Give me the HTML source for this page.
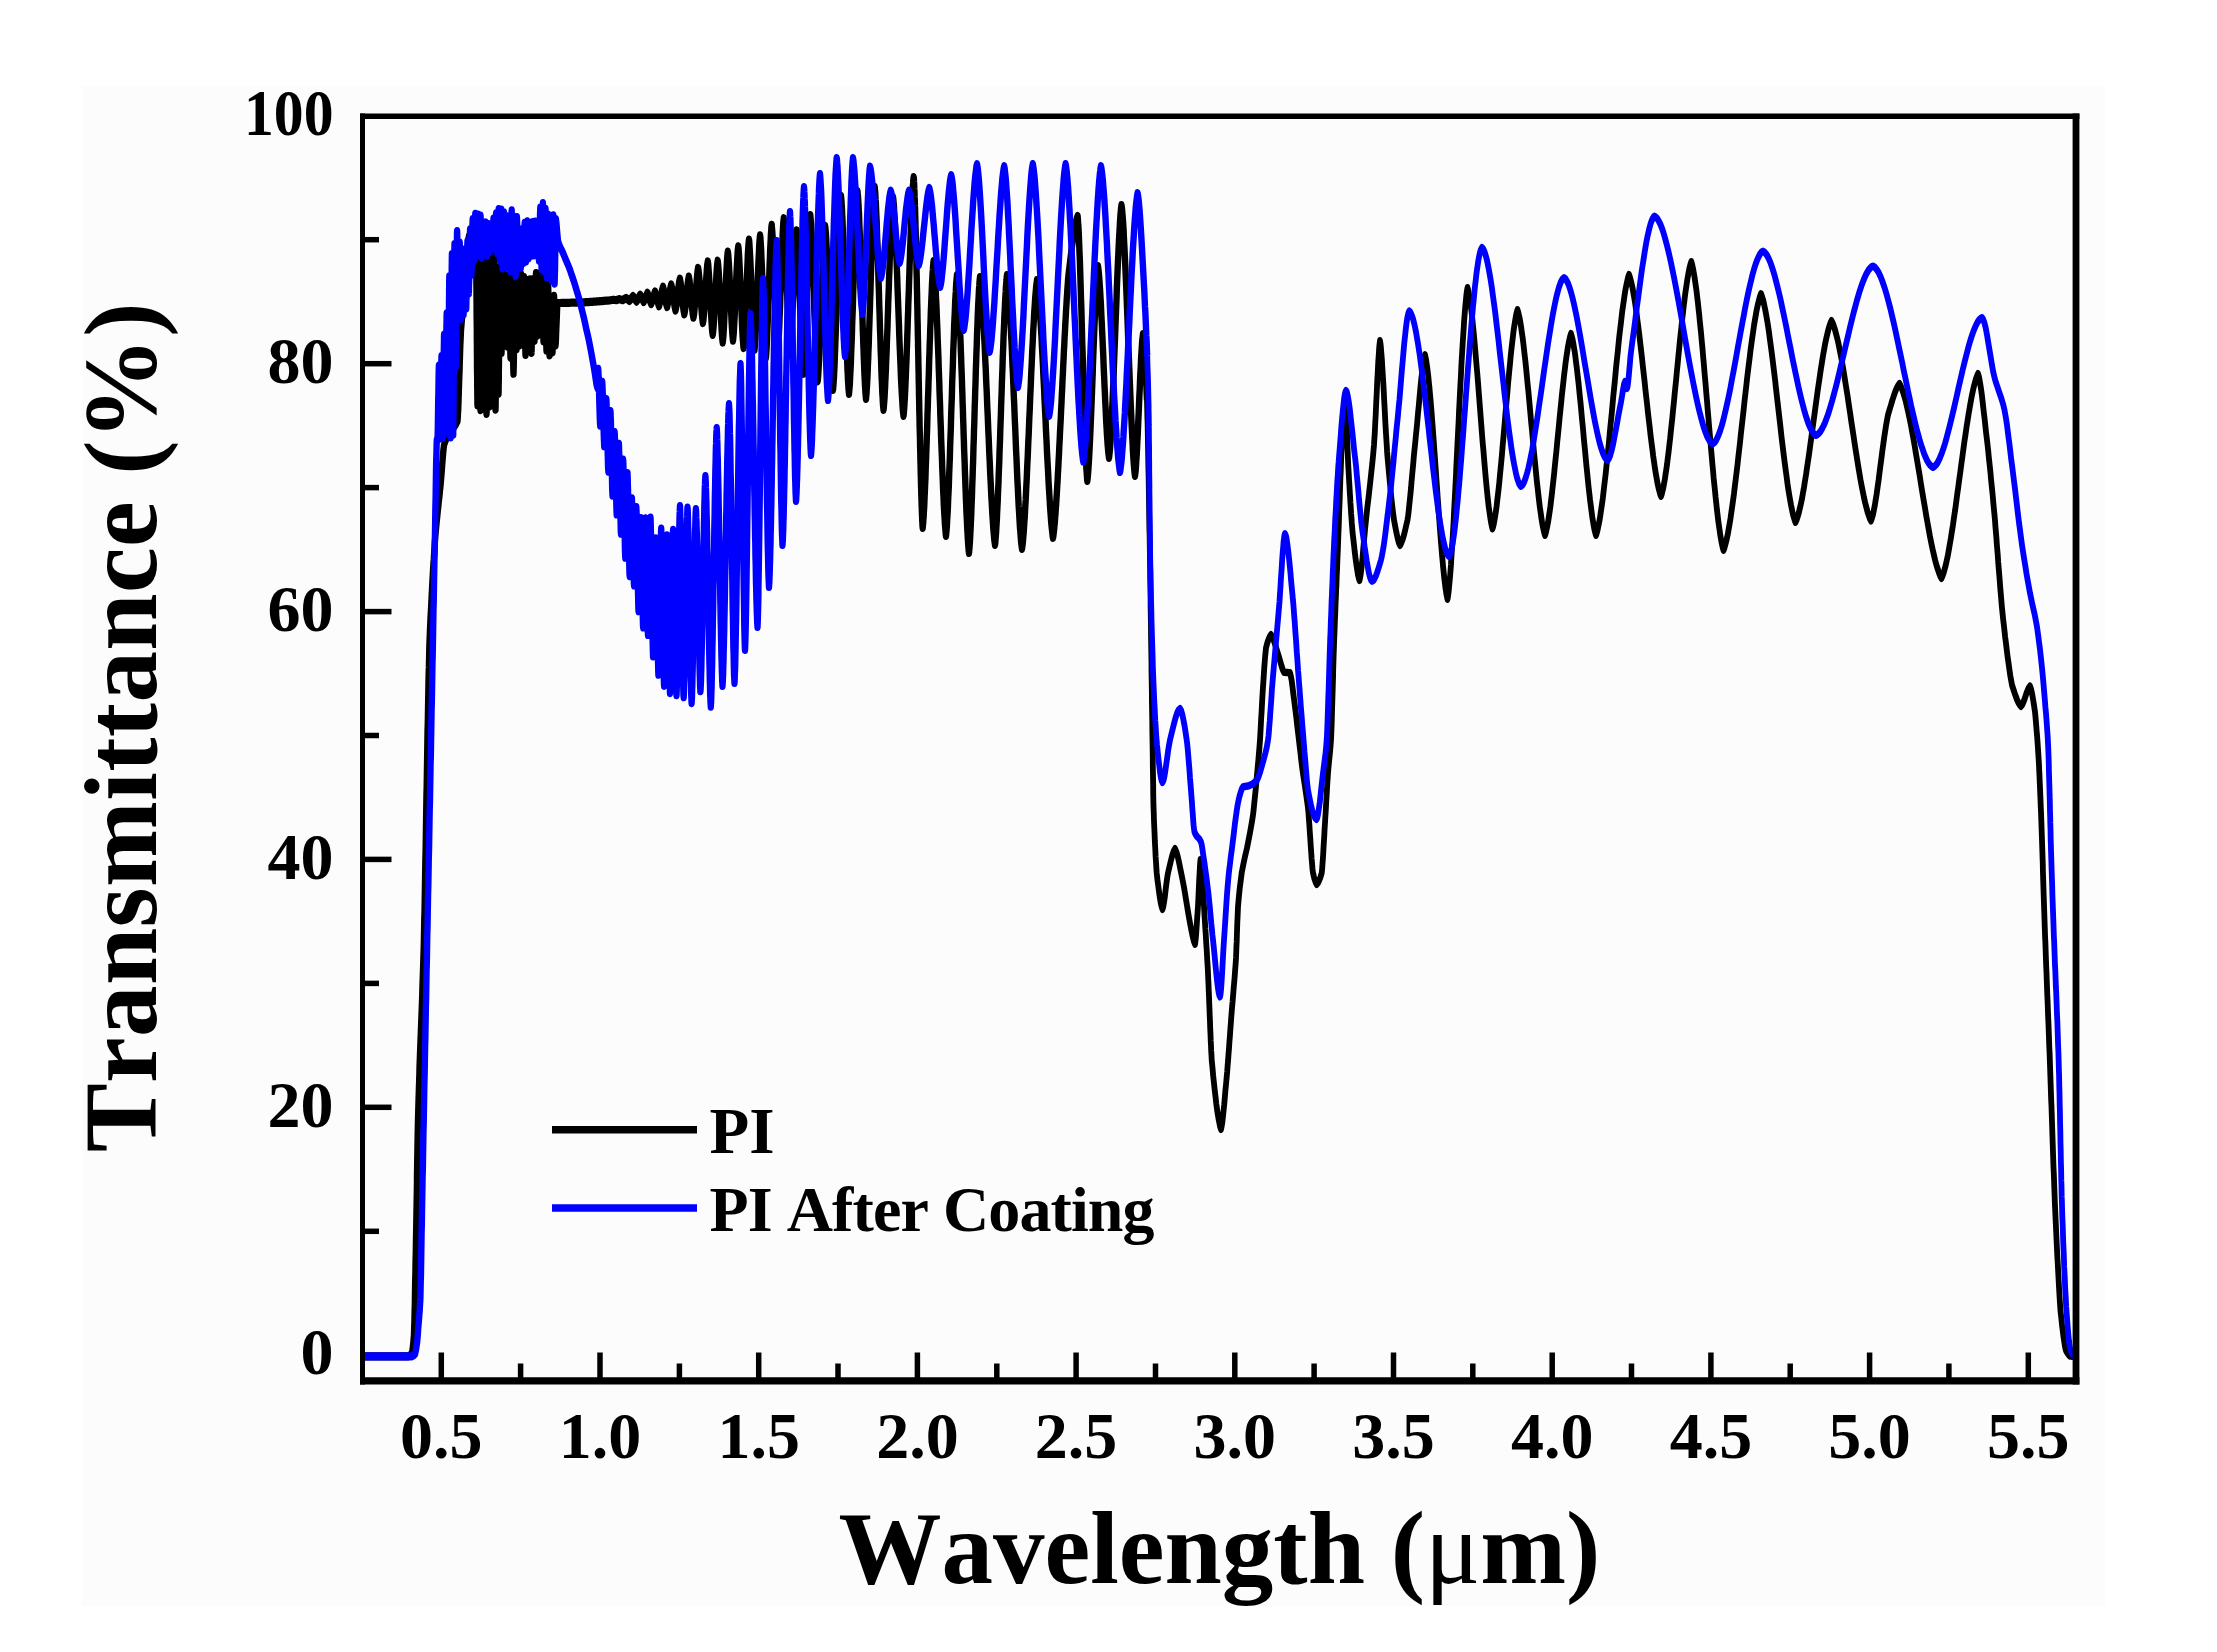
<!DOCTYPE html>
<html><head><meta charset="utf-8"><title>Transmittance</title>
<style>
html,body{margin:0;padding:0;background:#fff;}
svg{display:block}
text{font-family:"Liberation Serif","Times New Roman",serif;font-weight:bold;fill:#000;font-kerning:none;font-variant-ligatures:none}
</style></head><body>
<svg width="2217" height="1652" viewBox="0 0 2217 1652">
<rect x="0" y="0" width="2217" height="1652" fill="#fff"/>
<rect x="82" y="86" width="2023" height="1520" fill="#fdfcfd"/>
<g fill="none" stroke-linejoin="round" stroke-linecap="butt" transform="scale(1,1.28)">
<path d="M362.0 1059.7L363.5 1059.7L365.0 1059.7L366.5 1059.7L367.9 1059.7L369.4 1059.7L370.9 1059.7L372.4 1059.7L373.9 1059.7L375.4 1059.7L376.8 1059.7L378.3 1059.7L379.8 1059.7L381.3 1059.7L382.8 1059.7L384.3 1059.7L385.7 1059.7L387.2 1059.7L388.7 1059.7L390.2 1059.7L391.7 1059.7L393.2 1059.7L394.6 1059.7L396.1 1059.7L397.6 1059.7L399.1 1059.7L400.6 1059.7L402.1 1059.7L403.5 1059.7L405.0 1059.7L406.5 1059.7L408.0 1059.7L409.3 1059.2L410.7 1058.3L412.0 1057.0L412.5 1054.8L413.0 1051.7L413.5 1047.7L414.0 1043.0L414.1 1040.2L414.2 1036.9L414.4 1033.3L414.5 1029.3L414.6 1025.0L414.8 1020.4L414.9 1015.7L415.0 1010.7L415.1 1005.5L415.2 1000.3L415.4 995.0L415.5 989.6L415.6 984.3L415.8 979.0L415.9 973.8L416.0 968.8L416.1 964.6L416.2 960.2L416.3 955.8L416.4 951.3L416.5 946.6L416.6 942.0L416.7 937.2L416.8 932.5L416.9 927.7L417.0 922.9L417.0 918.2L417.1 913.4L417.2 908.7L417.3 904.1L417.4 899.6L417.5 895.2L417.6 890.8L417.7 886.6L417.8 882.6L417.9 878.7L418.0 875.0L418.2 869.3L418.4 863.9L418.6 858.6L418.8 853.5L419.0 848.6L419.2 843.8L419.4 839.2L419.5 834.7L419.7 830.3L419.9 825.9L420.1 821.7L420.3 817.5L420.5 813.4L420.7 809.3L420.9 805.3L421.1 801.2L421.3 797.2L421.5 793.1L421.7 789.0L421.9 784.9L422.1 780.7L422.3 776.4L422.4 772.1L422.6 767.7L422.8 763.1L423.0 758.5L423.2 753.7L423.4 748.7L423.6 743.6L423.8 738.3L423.9 734.5L424.0 730.5L424.1 726.5L424.2 722.3L424.3 718.0L424.5 713.7L424.6 709.3L424.7 704.7L424.8 700.1L424.9 695.4L425.0 690.7L425.1 685.9L425.2 681.0L425.3 676.1L425.4 671.1L425.6 666.1L425.7 661.0L425.8 655.9L425.9 650.8L426.0 645.7L426.1 640.5L426.2 635.3L426.3 630.2L426.4 625.0L426.5 619.8L426.7 614.6L426.8 609.5L426.9 604.4L427.0 599.3L427.1 594.2L427.2 589.2L427.3 584.2L427.4 579.2L427.5 574.3L427.6 569.5L427.8 564.7L427.9 560.0L428.0 555.3L428.1 550.8L428.2 546.3L428.3 541.9L428.4 537.6L428.5 533.4L428.6 529.3L428.7 525.3L428.9 521.4L429.0 517.6L429.1 514.0L429.2 510.5L429.3 507.1L429.4 503.9L429.7 498.0L430.0 492.4L430.3 486.9L430.6 481.6L431.0 476.5L431.3 471.6L431.6 466.8L431.9 462.2L432.2 457.7L432.5 453.3L432.8 449.1L433.1 444.9L433.4 440.9L433.8 437.0L434.1 433.1L434.4 429.3L434.7 425.6L435.0 421.9L435.5 416.9L436.1 412.3L436.6 407.9L437.2 403.7L437.7 399.6L438.3 395.6L438.8 391.6L439.4 387.7L439.9 383.6L440.5 379.4L441.0 375.0L441.5 370.3L442.0 365.2L442.5 360.0L443.0 355.1L443.5 350.9L444.0 347.7L445.2 344.9L446.4 342.7L447.6 340.9L448.8 339.2L450.0 337.5L451.2 336.1L452.5 334.9L453.8 333.8L455.0 332.6L456.2 331.0L457.5 328.9L457.7 326.6L457.9 323.6L458.2 320.0L458.4 315.9L458.6 311.3L458.8 306.4L459.0 301.2L459.2 295.9L459.5 290.5L459.7 285.1L459.9 279.8L460.1 274.6L460.3 269.8L460.6 265.3L460.8 261.3L461.0 257.8L461.6 252.4L462.1 247.7L462.7 243.4L463.3 239.4L463.9 235.4L464.4 231.2L465.0 226.6L465.4 222.4L465.8 217.8L466.2 212.8L466.6 207.6L467.0 202.6L467.4 197.7L467.8 193.3L468.2 189.4L468.6 186.4L469.0 184.4L470.0 185.1L471.0 186.2L472.0 187.5L473.3 189.4L474.7 191.6L476.0 195.3L476.1 197.4L476.1 200.2L476.2 203.5L476.2 207.4L476.3 211.7L476.3 216.4L476.4 221.5L476.5 226.8L476.5 232.5L476.6 238.3L476.6 244.3L476.7 250.4L476.8 256.6L476.8 262.7L476.9 268.8L476.9 274.7L477.0 280.5L477.0 286.1L477.1 291.4L477.2 296.4L477.2 301.0L477.3 305.2L477.3 308.9L477.4 312.1L477.4 314.7L477.5 316.7L477.6 314.8L477.6 312.2L477.7 309.1L477.7 305.5L477.8 301.4L477.8 296.9L477.9 292.0L477.9 286.8L478.0 281.3L478.1 275.6L478.1 269.8L478.2 263.8L478.2 257.7L478.3 251.6L478.3 245.5L478.4 239.6L478.4 233.7L478.5 228.0L478.6 222.5L478.6 217.3L478.7 212.4L478.7 207.9L478.8 203.8L478.8 200.2L478.9 197.1L478.9 194.5L479.0 192.6L479.1 194.5L479.1 197.0L479.2 200.1L479.2 203.6L479.3 207.6L479.3 212.0L479.4 216.8L479.4 221.9L479.5 227.2L479.5 232.8L479.6 238.6L479.6 244.5L479.7 250.5L479.8 256.5L479.8 262.6L479.9 268.6L479.9 274.5L480.0 280.2L480.0 285.8L480.1 291.2L480.1 296.3L480.2 301.0L480.2 305.4L480.3 309.4L480.3 313.0L480.4 316.0L480.4 318.5L480.5 320.4L480.6 318.5L480.6 315.9L480.7 312.7L480.7 309.0L480.8 304.8L480.8 300.2L480.9 295.3L481.0 290.0L481.0 284.4L481.1 278.6L481.1 272.7L481.2 266.7L481.2 260.6L481.3 254.5L481.4 248.4L481.4 242.5L481.5 236.7L481.5 231.2L481.6 225.9L481.7 220.9L481.7 216.3L481.8 212.1L481.8 208.4L481.9 205.2L481.9 202.6L482.0 200.7L482.1 202.6L482.1 205.1L482.2 208.2L482.2 211.9L482.3 216.0L482.3 220.5L482.4 225.3L482.5 230.5L482.5 236.0L482.6 241.6L482.6 247.5L482.7 253.4L482.8 259.3L482.8 265.3L482.9 271.2L482.9 277.0L483.0 282.7L483.0 288.1L483.1 293.3L483.2 298.2L483.2 302.7L483.3 306.8L483.3 310.4L483.4 313.5L483.4 316.1L483.5 318.0L483.6 316.0L483.6 313.4L483.7 310.1L483.7 306.3L483.8 302.0L483.9 297.3L483.9 292.2L484.0 286.8L484.0 281.1L484.1 275.3L484.2 269.2L484.2 263.1L484.3 257.0L484.3 250.9L484.4 244.9L484.5 239.0L484.5 233.3L484.6 227.9L484.6 222.8L484.7 218.1L484.8 213.8L484.8 210.0L484.9 206.7L484.9 204.1L485.0 202.1L485.1 204.1L485.1 206.7L485.2 209.9L485.2 213.7L485.3 217.9L485.3 222.6L485.4 227.6L485.5 233.0L485.5 238.6L485.6 244.4L485.6 250.4L485.7 256.6L485.8 262.7L485.8 268.9L485.9 275.0L485.9 281.0L486.0 286.9L486.0 292.5L486.1 297.9L486.2 302.9L486.2 307.6L486.3 311.8L486.3 315.5L486.4 318.7L486.4 321.4L486.5 323.3L486.6 321.4L486.6 318.7L486.7 315.5L486.7 311.7L486.8 307.4L486.9 302.6L486.9 297.5L487.0 292.1L487.0 286.4L487.1 280.6L487.2 274.5L487.2 268.4L487.3 262.3L487.3 256.1L487.4 250.1L487.5 244.2L487.5 238.5L487.6 233.1L487.6 228.0L487.7 223.3L487.8 219.0L487.8 215.2L487.9 212.0L487.9 209.3L488.0 207.3L488.1 209.3L488.1 212.0L488.2 215.2L488.2 219.1L488.3 223.4L488.4 228.2L488.4 233.3L488.5 238.8L488.6 244.5L488.6 250.4L488.7 256.4L488.8 262.5L488.8 268.5L488.9 274.5L488.9 280.4L489.0 286.1L489.1 291.6L489.1 296.7L489.2 301.5L489.2 305.8L489.3 309.7L489.4 313.0L489.4 315.6L489.5 317.6L489.6 315.6L489.6 312.9L489.7 309.6L489.7 305.8L489.8 301.5L489.9 296.7L489.9 291.5L490.0 286.1L490.0 280.3L490.1 274.4L490.2 268.3L490.2 262.1L490.3 255.9L490.3 249.8L490.4 243.7L490.5 237.7L490.5 232.0L490.6 226.5L490.6 221.4L490.7 216.6L490.8 212.3L490.8 208.4L490.9 205.2L490.9 202.5L491.0 200.5L491.1 202.5L491.1 205.1L491.2 208.4L491.2 212.2L491.3 216.5L491.4 221.2L491.4 226.3L491.5 231.7L491.5 237.4L491.6 243.3L491.7 249.3L491.7 255.4L491.8 261.6L491.8 267.7L491.9 273.7L492.0 279.6L492.0 285.3L492.1 290.7L492.1 295.8L492.2 300.6L492.3 304.9L492.3 308.7L492.4 311.9L492.4 314.5L492.5 316.5L492.6 314.5L492.6 311.9L492.7 308.6L492.7 304.8L492.8 300.5L492.9 295.7L492.9 290.6L493.0 285.2L493.0 279.4L493.1 273.5L493.2 267.5L493.2 261.3L493.3 255.1L493.3 249.0L493.4 242.9L493.5 237.0L493.5 231.3L493.6 225.9L493.6 220.7L493.7 216.0L493.8 211.7L493.8 207.9L493.9 204.6L493.9 201.9L494.0 199.9L494.1 201.9L494.1 204.5L494.2 207.7L494.2 211.4L494.3 215.6L494.3 220.2L494.4 225.2L494.5 230.5L494.5 236.1L494.6 241.8L494.6 247.8L494.7 253.9L494.8 260.0L494.8 266.1L494.9 272.1L494.9 278.1L495.0 283.9L495.0 289.4L495.1 294.7L495.2 299.7L495.2 304.3L495.3 308.5L495.3 312.2L495.4 315.4L495.4 318.0L495.5 320.0L495.6 318.0L495.6 315.3L495.7 312.1L495.8 308.2L495.8 303.9L495.9 299.2L495.9 294.0L496.0 288.6L496.1 282.9L496.1 277.0L496.2 271.0L496.2 264.9L496.3 258.8L496.4 252.8L496.4 247.0L496.5 241.3L496.6 235.8L496.6 230.7L496.7 225.9L496.8 221.6L496.8 217.8L496.9 214.5L496.9 211.8L497.0 209.9L497.1 211.9L497.1 214.7L497.2 218.3L497.3 222.4L497.4 227.1L497.4 232.3L497.5 237.8L497.6 243.6L497.6 249.6L497.7 255.7L497.8 261.9L497.9 268.0L497.9 274.0L498.0 279.8L498.1 285.3L498.1 290.5L498.2 295.2L498.3 299.3L498.4 302.9L498.4 305.7L498.5 307.7L498.6 305.8L498.6 303.1L498.7 299.7L498.8 295.8L498.8 291.3L498.9 286.4L499.0 281.2L499.0 275.6L499.1 269.9L499.2 264.0L499.2 258.0L499.3 252.0L499.4 246.1L499.5 240.3L499.5 234.8L499.6 229.5L499.7 224.6L499.7 220.2L499.8 216.2L499.9 212.9L499.9 210.2L500.0 208.2L500.1 210.3L500.2 213.5L500.3 217.5L500.4 222.2L500.5 227.5L500.6 233.1L500.7 239.0L500.8 245.0L500.9 250.9L501.0 256.5L501.1 261.8L501.2 266.5L501.3 270.5L501.4 273.7L501.5 275.8L501.6 273.7L501.7 270.6L501.8 266.6L501.9 262.0L502.0 256.8L502.1 251.3L502.2 245.5L502.3 239.6L502.4 233.8L502.5 228.3L502.6 223.1L502.7 218.5L502.8 214.5L502.9 211.4L503.0 209.3L503.1 211.5L503.2 214.8L503.3 219.1L503.5 224.1L503.6 229.6L503.7 235.4L503.8 241.3L503.9 247.1L504.0 252.5L504.2 257.5L504.3 261.8L504.4 265.1L504.5 267.3L504.6 265.0L504.8 261.5L504.9 256.9L505.0 251.6L505.2 245.9L505.3 240.1L505.5 234.4L505.6 229.1L505.7 224.5L505.9 221.0L506.0 218.7L506.1 220.9L506.2 224.2L506.4 228.6L506.5 233.6L506.6 239.0L506.8 244.8L506.9 250.5L507.0 256.0L507.1 261.0L507.2 265.3L507.4 268.6L507.5 270.8L507.6 268.5L507.8 264.8L507.9 260.2L508.0 254.8L508.1 248.9L508.2 242.7L508.4 236.6L508.5 230.7L508.6 225.3L508.8 220.6L508.9 217.0L509.0 214.7L509.1 216.9L509.2 220.2L509.3 224.5L509.4 229.5L509.5 235.0L509.6 241.0L509.8 247.1L509.9 253.2L510.0 259.1L510.1 264.6L510.2 269.6L510.3 273.9L510.4 277.2L510.5 279.4L510.6 277.3L510.7 274.0L510.8 269.8L510.9 264.9L511.0 259.5L511.1 253.7L511.2 247.8L511.4 241.8L511.5 236.0L511.6 230.6L511.7 225.7L511.8 221.6L511.9 218.3L512.0 216.1L512.1 218.2L512.2 221.1L512.3 224.9L512.4 229.3L512.4 234.2L512.5 239.6L512.6 245.2L512.7 251.1L512.8 257.0L512.9 262.8L513.0 268.5L513.1 273.9L513.1 278.8L513.2 283.2L513.3 287.0L513.4 289.9L513.5 292.0L513.6 289.9L513.7 286.9L513.8 283.1L513.9 278.7L513.9 273.7L514.0 268.3L514.1 262.6L514.2 256.6L514.3 250.7L514.4 244.8L514.5 239.0L514.6 233.6L514.6 228.6L514.7 224.2L514.8 220.4L514.9 217.4L515.0 215.3L515.1 217.5L515.2 220.8L515.3 225.1L515.5 230.0L515.6 235.5L515.7 241.3L515.8 247.1L515.9 252.9L516.0 258.4L516.2 263.3L516.3 267.5L516.4 270.9L516.5 273.0L516.6 270.7L516.8 267.1L516.9 262.5L517.0 257.1L517.1 251.3L517.2 245.2L517.4 239.1L517.5 233.2L517.6 227.8L517.8 223.2L517.9 219.6L518.0 217.3L518.1 219.5L518.2 222.9L518.4 227.2L518.5 232.3L518.6 237.8L518.8 243.6L518.9 249.3L519.0 254.9L519.1 259.9L519.2 264.3L519.4 267.7L519.5 269.9L519.6 267.5L519.8 263.9L519.9 259.3L520.0 254.0L520.1 248.1L520.2 242.0L520.4 235.9L520.5 230.0L520.6 224.6L520.8 220.0L520.9 216.4L521.0 214.1L521.1 216.5L521.3 220.2L521.4 225.0L521.5 230.5L521.7 236.5L521.8 242.7L522.0 248.7L522.1 254.2L522.2 259.0L522.4 262.7L522.5 265.1L522.6 262.8L522.8 259.3L522.9 254.7L523.0 249.4L523.2 243.7L523.3 237.8L523.5 232.1L523.6 226.8L523.7 222.3L523.9 218.7L524.0 216.4L524.1 218.7L524.2 222.2L524.3 226.7L524.5 231.9L524.6 237.7L524.7 243.8L524.8 249.9L524.9 256.0L525.0 261.8L525.2 267.0L525.3 271.5L525.4 275.0L525.5 277.3L525.6 275.1L525.7 271.7L525.8 267.4L526.0 262.4L526.1 256.9L526.2 251.0L526.3 245.1L526.4 239.2L526.5 233.7L526.7 228.7L526.8 224.4L526.9 221.0L527.0 218.8L527.1 221.1L527.2 224.7L527.4 229.3L527.5 234.6L527.6 240.4L527.8 246.5L527.9 252.5L528.0 258.3L528.1 263.6L528.2 268.2L528.4 271.8L528.5 274.1L528.6 271.8L528.8 268.1L528.9 263.5L529.0 258.2L529.1 252.3L529.2 246.1L529.4 240.0L529.5 234.1L529.6 228.8L529.8 224.2L529.9 220.5L530.0 218.2L530.1 220.4L530.2 223.7L530.3 227.9L530.5 232.8L530.6 238.3L530.7 244.0L530.8 249.9L530.9 255.7L531.0 261.1L531.2 266.0L531.3 270.3L531.4 273.6L531.5 275.7L531.6 273.6L531.7 270.2L531.8 266.0L532.0 261.1L532.1 255.6L532.2 249.8L532.3 244.0L532.4 238.2L532.5 232.7L532.7 227.8L532.8 223.5L532.9 220.2L533.0 218.0L533.1 220.3L533.3 223.8L533.4 228.4L533.5 233.6L533.7 239.2L533.8 245.0L534.0 250.7L534.1 255.9L534.2 260.5L534.4 264.0L534.5 266.3L534.6 264.0L534.8 260.6L534.9 256.3L535.0 251.2L535.1 245.6L535.2 239.8L535.4 234.0L535.5 228.5L535.6 223.4L535.8 219.1L535.9 215.6L536.0 213.4L536.1 215.7L536.3 219.3L536.4 223.9L536.5 229.2L536.7 234.9L536.8 240.7L537.0 246.5L537.1 251.7L537.2 256.3L537.4 259.9L537.5 262.2L537.6 259.9L537.8 256.4L537.9 251.8L538.0 246.6L538.2 240.9L538.3 235.1L538.5 229.5L538.6 224.2L538.7 219.7L538.9 216.2L539.0 213.9L539.1 216.3L539.3 220.0L539.5 224.8L539.6 230.3L539.8 236.1L539.9 241.9L540.0 247.4L540.2 252.2L540.4 255.9L540.5 258.3L540.6 256.0L540.8 252.3L541.0 247.6L541.1 242.2L541.2 236.5L541.4 230.8L541.5 225.5L541.7 220.8L541.9 217.1L542.0 214.8L542.1 217.0L542.2 220.3L542.4 224.6L542.5 229.6L542.6 235.0L542.8 240.7L542.9 246.4L543.0 251.8L543.1 256.8L543.2 261.1L543.4 264.4L543.5 266.6L543.7 264.1L543.8 259.9L544.0 254.7L544.2 248.8L544.3 242.7L544.5 236.8L544.7 231.5L544.8 227.4L545.0 224.8L545.1 227.1L545.3 230.7L545.4 235.3L545.5 240.6L545.7 246.4L545.8 252.2L546.0 258.0L546.1 263.3L546.2 267.9L546.4 271.5L546.5 273.8L546.6 271.4L546.8 267.8L546.9 263.2L547.0 257.8L547.1 251.9L547.2 245.7L547.4 239.6L547.5 233.7L547.6 228.3L547.8 223.7L547.9 220.1L548.0 217.7L548.1 220.0L548.2 223.4L548.3 227.8L548.5 233.0L548.6 238.6L548.7 244.6L548.8 250.7L548.9 256.7L549.0 262.4L549.2 267.5L549.3 271.9L549.4 275.3L549.5 277.6L549.6 275.2L549.8 271.4L550.0 266.6L550.1 261.1L550.2 255.2L550.4 249.3L550.5 243.8L550.7 238.9L550.9 235.1L551.0 232.8L551.1 235.0L551.3 238.6L551.5 243.2L551.6 248.5L551.8 254.0L551.9 259.6L552.0 264.9L552.2 269.5L552.4 273.1L552.5 275.3L552.6 273.0L552.8 269.2L553.0 264.5L553.1 259.0L553.2 253.2L553.4 247.4L553.5 241.9L553.7 237.2L553.9 233.4L554.0 231.1L554.2 233.5L554.3 237.3L554.5 242.2L554.7 247.6L554.8 253.4L555.0 258.8L555.2 263.7L555.3 267.5L555.5 269.9L555.8 267.5L556.0 263.6L556.2 258.7L556.5 253.3L556.8 247.9L557.0 243.0L557.2 239.1L557.5 236.7L559.0 236.7L560.4 236.7L561.9 236.6L563.3 236.6L564.8 236.6L566.2 236.6L567.7 236.6L569.2 236.6L570.6 236.5L572.1 236.5L573.5 236.5L575.0 236.5L576.4 236.4L577.7 236.4L579.1 236.4L580.5 236.3L581.8 236.3L583.2 236.2L584.5 236.2L585.9 236.1L587.3 236.1L588.6 236.0L590.0 235.9L591.1 235.9L592.3 235.8L593.4 235.7L594.5 235.6L595.6 235.6L596.7 235.5L597.8 235.4L598.9 235.4L599.9 235.3L601.0 235.2L602.1 235.2L603.2 235.1L604.3 235.0L605.4 234.9L606.4 234.8L607.5 234.8L608.6 234.8L609.7 234.7L610.8 234.6L611.9 234.4L612.9 234.3L614.0 234.3L615.1 234.4L616.2 234.5L617.3 234.3L618.4 233.9L619.4 233.7L620.5 234.0L621.6 234.3L622.7 234.5L623.8 234.0L625.0 233.2L626.1 232.7L627.2 233.4L628.4 234.4L629.5 235.1L630.6 234.0L631.8 232.4L633.0 231.3L634.1 232.5L635.3 234.3L636.5 235.6L637.7 234.1L638.9 231.8L640.1 230.3L641.3 231.9L642.5 234.3L643.7 235.9L644.9 233.9L646.2 230.8L647.4 228.7L648.7 231.2L649.9 235.0L651.2 237.5L652.5 234.7L653.8 230.5L655.0 227.7L656.4 230.9L657.7 235.9L659.0 239.2L660.0 236.3L661.0 231.6L662.0 226.9L663.0 224.0L664.0 227.0L665.0 231.9L666.0 236.9L667.1 239.8L668.1 236.5L669.2 231.0L670.2 225.5L671.2 222.2L672.1 225.0L673.0 229.7L673.8 235.1L674.7 239.8L675.5 242.6L676.2 240.0L677.0 235.5L677.7 230.2L678.4 224.9L679.1 220.5L679.9 217.8L680.6 220.8L681.3 225.8L682.1 231.7L682.8 237.7L683.6 242.7L684.3 245.6L684.9 243.1L685.6 238.9L686.2 233.6L686.9 228.1L687.5 222.9L688.2 218.7L688.8 216.1L689.5 218.9L690.1 223.5L690.8 229.2L691.5 235.2L692.1 240.9L692.8 245.5L693.4 248.2L694.0 245.8L694.5 242.0L695.0 237.1L695.5 231.6L696.1 225.9L696.6 220.4L697.1 215.5L697.6 211.7L698.1 209.3L698.6 211.6L699.1 215.2L699.6 219.9L700.1 225.2L700.5 230.8L701.0 236.5L701.5 241.8L702.0 246.4L702.5 250.1L702.9 252.4L703.4 250.1L703.8 246.6L704.3 242.1L704.7 236.9L705.1 231.2L705.6 225.5L706.0 219.8L706.5 214.6L706.9 210.1L707.3 206.6L707.8 204.3L708.2 206.5L708.5 209.8L708.9 214.0L709.3 218.9L709.7 224.3L710.1 230.0L710.4 235.9L710.8 241.6L711.2 247.0L711.6 251.9L711.9 256.1L712.3 259.4L712.7 261.6L713.1 259.4L713.5 256.1L713.9 251.8L714.2 246.9L714.6 241.4L715.0 235.6L715.4 229.7L715.8 223.9L716.2 218.4L716.5 213.5L716.9 209.2L717.3 205.9L717.7 203.7L718.0 205.9L718.4 209.2L718.8 213.4L719.1 218.3L719.5 223.8L719.8 229.7L720.2 235.7L720.6 241.7L720.9 247.5L721.3 253.0L721.6 257.9L722.0 262.1L722.4 265.4L722.7 267.6L723.0 265.6L723.4 262.5L723.7 258.7L724.0 254.2L724.3 249.1L724.6 243.7L725.0 237.9L725.3 232.1L725.6 226.2L725.9 220.5L726.2 215.0L726.6 209.9L726.9 205.4L727.2 201.6L727.5 198.6L727.8 196.5L728.2 198.7L728.5 201.9L728.9 206.1L729.2 210.9L729.6 216.3L729.9 222.2L730.3 228.2L730.6 234.4L730.9 240.4L731.3 246.2L731.6 251.7L732.0 256.5L732.3 260.6L732.7 263.9L733.0 266.1L733.3 263.9L733.7 260.8L734.0 256.8L734.3 252.2L734.7 246.9L735.0 241.3L735.3 235.3L735.6 229.2L736.0 223.2L736.3 217.2L736.6 211.6L737.0 206.3L737.3 201.7L737.6 197.7L737.9 194.5L738.3 192.4L738.6 194.5L738.9 197.6L739.2 201.6L739.5 206.2L739.8 211.4L740.1 217.0L740.5 222.9L740.8 229.1L741.1 235.3L741.4 241.4L741.7 247.3L742.0 253.0L742.3 258.1L742.6 262.8L743.0 266.7L743.3 269.8L743.6 271.9L743.9 269.9L744.2 267.1L744.4 263.6L744.7 259.4L745.0 254.7L745.3 249.6L745.6 244.1L745.9 238.4L746.1 232.5L746.4 226.6L746.7 220.7L747.0 215.0L747.3 209.6L747.6 204.4L747.8 199.7L748.1 195.5L748.4 192.0L748.7 189.2L749.0 187.2L749.3 189.2L749.5 192.1L749.8 195.7L750.1 199.9L750.4 204.7L750.7 209.9L751.0 215.5L751.3 221.3L751.6 227.2L751.9 233.2L752.2 239.2L752.4 245.0L752.7 250.6L753.0 255.8L753.3 260.6L753.6 264.8L753.9 268.4L754.2 271.3L754.5 273.3L754.7 271.3L755.0 268.5L755.3 265.1L755.6 261.0L755.9 256.4L756.1 251.3L756.4 245.9L756.7 240.3L757.0 234.5L757.3 228.5L757.6 222.6L757.8 216.8L758.1 211.1L758.4 205.7L758.7 200.7L759.0 196.1L759.2 192.0L759.5 188.5L759.8 185.7L760.1 183.8L760.4 185.8L760.6 188.5L760.9 192.0L761.2 196.1L761.4 200.7L761.7 205.7L762.0 211.2L762.3 216.9L762.5 222.8L762.8 228.8L763.1 234.8L763.4 240.9L763.6 246.7L763.9 252.4L764.2 257.9L764.4 262.9L764.7 267.5L765.0 271.6L765.3 275.1L765.5 277.8L765.8 279.8L766.1 277.9L766.3 275.2L766.6 271.9L766.8 268.1L767.1 263.7L767.3 258.9L767.6 253.7L767.9 248.3L768.1 242.6L768.4 236.7L768.6 230.7L768.9 224.7L769.1 218.7L769.4 212.9L769.6 207.2L769.9 201.7L770.1 196.5L770.4 191.7L770.7 187.3L770.9 183.5L771.2 180.2L771.4 177.5L771.7 175.6L771.9 177.6L772.2 180.3L772.5 183.7L772.8 187.6L773.0 192.1L773.3 197.0L773.6 202.3L773.9 207.9L774.1 213.7L774.4 219.7L774.7 225.7L774.9 231.7L775.2 237.7L775.5 243.5L775.8 249.1L776.0 254.4L776.3 259.3L776.6 263.8L776.8 267.7L777.1 271.1L777.4 273.8L777.7 275.8L777.9 273.9L778.2 271.2L778.5 267.8L778.7 263.9L779.0 259.5L779.3 254.7L779.5 249.5L779.8 243.9L780.1 238.2L780.3 232.2L780.6 226.2L780.9 220.2L781.1 214.1L781.4 208.2L781.7 202.4L781.9 196.9L782.2 191.7L782.5 186.8L782.7 182.4L783.0 178.5L783.2 175.2L783.5 172.5L783.8 170.5L784.1 172.5L784.3 175.3L784.6 178.6L784.9 182.6L785.1 187.1L785.4 192.0L785.7 197.3L786.0 202.9L786.2 208.7L786.5 214.7L786.8 220.8L787.0 227.0L787.3 233.1L787.6 239.1L787.9 244.9L788.1 250.5L788.4 255.8L788.7 260.7L788.9 265.2L789.2 269.2L789.5 272.5L789.8 275.3L790.0 277.3L790.3 275.2L790.7 272.4L791.0 268.9L791.3 264.8L791.6 260.1L791.9 255.0L792.2 249.5L792.5 243.7L792.8 237.7L793.1 231.6L793.4 225.5L793.7 219.4L794.1 213.4L794.4 207.7L794.7 202.2L795.0 197.1L795.3 192.4L795.6 188.3L795.9 184.7L796.2 181.9L796.5 179.9L796.8 181.9L797.1 184.6L797.4 187.9L797.7 191.8L797.9 196.2L798.2 201.1L798.5 206.3L798.8 211.9L799.1 217.6L799.3 223.6L799.6 229.8L799.9 235.9L800.2 242.1L800.5 248.2L800.7 254.2L801.0 260.0L801.3 265.5L801.6 270.8L801.9 275.6L802.2 280.0L802.4 283.9L802.7 287.3L803.0 290.0L803.3 292.0L803.5 290.0L803.8 287.5L804.1 284.4L804.3 280.8L804.6 276.7L804.8 272.2L805.1 267.3L805.4 262.1L805.6 256.6L805.9 250.9L806.1 245.1L806.4 239.1L806.7 233.0L806.9 227.0L807.2 220.9L807.4 214.9L807.7 209.1L807.9 203.4L808.2 197.9L808.5 192.7L808.7 187.8L809.0 183.3L809.2 179.2L809.5 175.6L809.8 172.5L810.0 170.0L810.3 168.0L810.5 170.0L810.8 172.5L811.1 175.6L811.3 179.2L811.6 183.3L811.8 187.8L812.1 192.6L812.4 197.8L812.6 203.2L812.9 208.9L813.1 214.8L813.4 220.8L813.7 226.9L813.9 233.0L814.2 239.1L814.4 245.2L814.7 251.2L815.0 257.1L815.2 262.8L815.5 268.2L815.7 273.4L816.0 278.2L816.3 282.7L816.5 286.8L816.8 290.4L817.0 293.5L817.3 296.0L817.6 298.0L817.9 296.0L818.2 293.4L818.4 290.1L818.7 286.4L819.0 282.1L819.3 277.5L819.6 272.4L819.9 267.0L820.2 261.4L820.5 255.5L820.8 249.5L821.1 243.3L821.4 237.2L821.6 231.0L821.9 224.8L822.2 218.8L822.5 213.0L822.8 207.3L823.1 201.9L823.4 196.9L823.7 192.2L824.0 187.9L824.3 184.2L824.6 181.0L824.8 178.3L825.1 176.4L825.4 178.3L825.7 180.8L826.0 183.8L826.3 187.4L826.5 191.4L826.8 195.8L827.1 200.6L827.4 205.7L827.7 211.1L827.9 216.7L828.2 222.5L828.5 228.4L828.8 234.4L829.1 240.5L829.3 246.5L829.6 252.6L829.9 258.5L830.2 264.3L830.5 269.9L830.8 275.3L831.0 280.4L831.3 285.2L831.6 289.6L831.9 293.6L832.2 297.1L832.4 300.2L832.7 302.7L833.0 304.6L833.2 302.7L833.5 300.4L833.7 297.5L834.0 294.2L834.2 290.5L834.5 286.4L834.7 282.0L834.9 277.2L835.2 272.2L835.4 266.9L835.7 261.4L835.9 255.8L836.2 249.9L836.4 244.0L836.6 238.0L836.9 231.9L837.1 225.9L837.4 219.8L837.6 213.8L837.8 207.9L838.1 202.0L838.3 196.4L838.6 190.9L838.8 185.6L839.1 180.6L839.3 175.8L839.5 171.4L839.8 167.3L840.0 163.6L840.3 160.3L840.5 157.5L840.8 155.1L841.0 153.2L841.2 155.1L841.5 157.5L841.7 160.5L842.0 163.8L842.2 167.6L842.5 171.8L842.7 176.3L842.9 181.2L843.2 186.3L843.4 191.7L843.7 197.3L843.9 203.1L844.2 209.0L844.4 215.0L844.6 221.2L844.9 227.4L845.1 233.6L845.4 239.8L845.6 245.9L845.8 251.9L846.1 257.9L846.3 263.7L846.6 269.3L846.8 274.6L847.1 279.8L847.3 284.6L847.5 289.1L847.8 293.3L848.0 297.1L848.3 300.5L848.5 303.4L848.8 305.8L849.0 307.7L849.2 305.8L849.5 303.4L849.8 300.6L850.0 297.3L850.2 293.6L850.5 289.5L850.8 285.0L851.0 280.3L851.2 275.2L851.5 269.9L851.8 264.4L852.0 258.7L852.2 252.9L852.5 246.9L852.8 240.8L853.0 234.7L853.2 228.5L853.5 222.3L853.8 216.2L854.0 210.1L854.2 204.2L854.5 198.3L854.8 192.6L855.0 187.1L855.2 181.8L855.5 176.8L855.8 172.0L856.0 167.6L856.2 163.5L856.5 159.8L856.8 156.5L857.0 153.6L857.2 151.2L857.5 149.3L857.7 151.2L858.0 153.5L858.2 156.4L858.5 159.6L858.7 163.3L859.0 167.3L859.2 171.6L859.4 176.3L859.7 181.2L859.9 186.4L860.2 191.9L860.4 197.5L860.7 203.3L860.9 209.2L861.1 215.2L861.4 221.3L861.6 227.4L861.9 233.5L862.1 239.7L862.4 245.8L862.6 251.8L862.8 257.7L863.1 263.5L863.3 269.1L863.6 274.5L863.8 279.7L864.1 284.6L864.3 289.3L864.5 293.7L864.8 297.7L865.0 301.3L865.3 304.6L865.5 307.4L865.8 309.8L866.0 311.6L866.2 309.8L866.5 307.5L866.7 304.7L867.0 301.5L867.2 298.0L867.5 294.0L867.7 289.8L867.9 285.2L868.2 280.4L868.4 275.3L868.7 270.0L868.9 264.5L869.1 258.8L869.4 253.0L869.6 247.1L869.9 241.1L870.1 235.0L870.4 228.9L870.6 222.8L870.8 216.8L871.1 210.8L871.3 204.8L871.6 199.0L871.8 193.4L872.0 187.9L872.3 182.5L872.5 177.5L872.8 172.6L873.0 168.0L873.2 163.8L873.5 159.9L873.7 156.3L874.0 153.1L874.2 150.3L874.5 148.0L874.7 146.2L874.9 148.0L875.2 150.3L875.4 153.0L875.6 156.1L875.9 159.5L876.1 163.4L876.3 167.5L876.6 171.9L876.8 176.6L877.0 181.6L877.2 186.8L877.5 192.1L877.7 197.7L877.9 203.4L878.2 209.2L878.4 215.1L878.6 221.1L878.9 227.1L879.1 233.2L879.3 239.3L879.6 245.3L879.8 251.3L880.0 257.2L880.3 263.0L880.5 268.7L880.7 274.3L881.0 279.6L881.2 284.8L881.4 289.8L881.6 294.5L881.9 298.9L882.1 303.0L882.3 306.9L882.6 310.3L882.8 313.4L883.0 316.1L883.3 318.4L883.5 320.2L883.8 318.4L884.0 316.0L884.3 313.3L884.6 310.1L884.8 306.5L885.1 302.5L885.3 298.3L885.6 293.7L885.9 288.8L886.1 283.7L886.4 278.4L886.7 272.8L886.9 267.1L887.2 261.3L887.5 255.3L887.7 249.3L888.0 243.2L888.2 237.1L888.5 231.0L888.8 224.9L889.0 218.9L889.3 212.9L889.6 207.1L889.8 201.4L890.1 195.9L890.4 190.5L890.6 185.4L890.9 180.6L891.2 176.0L891.4 171.7L891.7 167.7L891.9 164.2L892.2 161.0L892.5 158.2L892.7 155.8L893.0 154.0L893.3 155.8L893.6 158.2L893.9 160.9L894.1 164.1L894.4 167.6L894.7 171.5L895.0 175.7L895.3 180.3L895.6 185.1L895.8 190.1L896.1 195.4L896.4 200.9L896.7 206.5L897.0 212.3L897.3 218.2L897.5 224.2L897.8 230.3L898.1 236.4L898.4 242.5L898.7 248.6L899.0 254.7L899.2 260.7L899.5 266.6L899.8 272.4L900.1 278.0L900.4 283.5L900.7 288.8L900.9 293.8L901.2 298.7L901.5 303.2L901.8 307.4L902.1 311.3L902.4 314.8L902.6 318.0L902.9 320.8L903.2 323.1L903.5 324.9L903.8 323.1L904.0 320.8L904.3 318.1L904.5 315.0L904.8 311.6L905.0 307.8L905.3 303.7L905.5 299.3L905.8 294.6L906.0 289.7L906.3 284.5L906.6 279.1L906.8 273.6L907.1 267.9L907.3 262.1L907.6 256.1L907.8 250.1L908.1 244.0L908.3 237.8L908.6 231.6L908.9 225.5L909.1 219.3L909.4 213.2L909.6 207.2L909.9 201.2L910.1 195.4L910.4 189.7L910.6 184.1L910.9 178.8L911.1 173.6L911.4 168.7L911.7 164.0L911.9 159.6L912.2 155.5L912.4 151.7L912.7 148.3L912.9 145.2L913.2 142.5L913.4 140.2L913.7 138.4L913.9 140.1L914.0 142.2L914.2 144.6L914.3 147.2L914.5 150.1L914.6 153.3L914.8 156.7L914.9 160.3L915.1 164.2L915.2 168.2L915.4 172.5L915.5 177.0L915.7 181.6L915.8 186.4L916.0 191.4L916.1 196.6L916.3 201.8L916.4 207.2L916.6 212.8L916.8 218.4L916.9 224.1L917.1 230.0L917.2 235.9L917.4 241.8L917.5 247.9L917.7 253.9L917.8 260.0L918.0 266.2L918.1 272.3L918.3 278.5L918.4 284.6L918.6 290.8L918.7 296.9L918.9 302.9L919.0 309.0L919.2 314.9L919.3 320.8L919.5 326.6L919.6 332.4L919.8 338.0L920.0 343.5L920.1 348.9L920.3 354.2L920.4 359.3L920.6 364.3L920.7 369.2L920.9 373.8L921.0 378.3L921.2 382.5L921.3 386.6L921.5 390.5L921.6 394.1L921.8 397.5L921.9 400.7L922.1 403.6L922.2 406.2L922.4 408.6L922.5 410.6L922.7 412.4L922.9 410.6L923.2 408.4L923.4 405.8L923.7 402.9L923.9 399.7L924.2 396.1L924.4 392.3L924.6 388.1L924.9 383.7L925.1 379.1L925.4 374.3L925.6 369.2L925.8 364.0L926.1 358.5L926.3 353.0L926.6 347.3L926.8 341.5L927.1 335.6L927.3 329.6L927.5 323.5L927.8 317.4L928.0 311.3L928.3 305.1L928.5 299.0L928.8 292.9L929.0 286.8L929.2 280.9L929.5 274.9L929.7 269.1L930.0 263.4L930.2 257.9L930.5 252.4L930.7 247.2L930.9 242.1L931.2 237.3L931.4 232.7L931.7 228.3L931.9 224.1L932.1 220.3L932.4 216.7L932.6 213.5L932.9 210.6L933.1 208.0L933.4 205.8L933.6 204.0L933.9 205.8L934.1 208.0L934.4 210.6L934.7 213.5L934.9 216.7L935.2 220.3L935.5 224.1L935.8 228.2L936.0 232.6L936.3 237.2L936.6 242.1L936.8 247.1L937.1 252.4L937.4 257.8L937.6 263.3L937.9 269.0L938.2 274.8L938.5 280.8L938.7 286.8L939.0 292.9L939.3 299.0L939.5 305.1L939.8 311.3L940.1 317.5L940.3 323.7L940.6 329.8L940.9 335.9L941.1 341.9L941.4 347.8L941.7 353.6L942.0 359.3L942.2 364.9L942.5 370.3L942.8 375.5L943.0 380.6L943.3 385.4L943.6 390.0L943.8 394.4L944.1 398.5L944.4 402.4L944.7 405.9L944.9 409.2L945.2 412.1L945.5 414.6L945.7 416.8L946.0 418.7L946.2 416.9L946.5 414.6L946.8 412.0L947.0 409.1L947.2 405.8L947.5 402.2L947.8 398.3L948.0 394.2L948.2 389.7L948.5 385.1L948.8 380.2L949.0 375.0L949.2 369.8L949.5 364.3L949.8 358.7L950.0 352.9L950.2 347.1L950.5 341.1L950.8 335.1L951.0 329.0L951.2 322.9L951.5 316.8L951.8 310.7L952.0 304.6L952.2 298.5L952.5 292.5L952.8 286.5L953.0 280.7L953.2 274.9L953.5 269.3L953.8 263.8L954.0 258.5L954.2 253.4L954.5 248.5L954.8 243.9L955.0 239.4L955.2 235.3L955.5 231.4L955.8 227.8L956.0 224.5L956.2 221.5L956.5 219.0L956.8 216.7L957.0 214.9L957.3 216.7L957.5 218.9L957.8 221.4L958.0 224.3L958.3 227.4L958.5 230.9L958.8 234.7L959.0 238.7L959.3 243.0L959.6 247.5L959.8 252.3L960.1 257.2L960.3 262.3L960.6 267.6L960.8 273.1L961.1 278.7L961.3 284.4L961.6 290.2L961.9 296.2L962.1 302.1L962.4 308.2L962.6 314.3L962.9 320.4L963.1 326.5L963.4 332.6L963.6 338.7L963.9 344.7L964.1 350.7L964.4 356.6L964.7 362.5L964.9 368.2L965.2 373.8L965.4 379.2L965.7 384.5L965.9 389.7L966.2 394.6L966.4 399.4L966.7 403.9L967.0 408.2L967.2 412.2L967.5 415.9L967.7 419.4L968.0 422.6L968.2 425.5L968.5 428.0L968.7 430.2L969.0 432.0L969.2 430.1L969.5 427.9L969.7 425.3L970.0 422.4L970.2 419.2L970.4 415.6L970.7 411.7L970.9 407.6L971.2 403.2L971.4 398.6L971.6 393.7L971.9 388.7L972.1 383.4L972.3 378.0L972.6 372.4L972.8 366.7L973.1 360.8L973.3 354.9L973.5 348.9L973.8 342.8L974.0 336.6L974.3 330.4L974.5 324.2L974.7 318.0L975.0 311.8L975.2 305.7L975.5 299.6L975.7 293.5L975.9 287.6L976.2 281.8L976.4 276.0L976.7 270.5L976.9 265.0L977.1 259.8L977.4 254.7L977.6 249.9L977.8 245.2L978.1 240.8L978.3 236.7L978.6 232.8L978.8 229.3L979.0 226.0L979.3 223.1L979.5 220.5L979.8 218.3L980.0 216.5L980.3 218.3L980.7 220.5L981.0 223.1L981.3 226.0L981.7 229.3L982.0 232.9L982.3 236.7L982.7 240.9L983.0 245.3L983.3 249.9L983.7 254.8L984.0 259.9L984.3 265.1L984.7 270.6L985.0 276.1L985.3 281.9L985.7 287.7L986.0 293.6L986.3 299.7L986.7 305.7L987.0 311.9L987.3 318.0L987.7 324.2L988.0 330.3L988.3 336.4L988.7 342.5L989.0 348.5L989.3 354.5L989.7 360.3L990.0 366.0L990.3 371.6L990.7 377.1L991.0 382.3L991.3 387.4L991.7 392.3L992.0 396.9L992.3 401.3L992.7 405.5L993.0 409.3L993.3 412.9L993.7 416.2L994.0 419.1L994.3 421.7L994.7 423.9L995.0 425.7L995.3 423.9L995.5 421.6L995.8 419.0L996.1 416.1L996.3 412.8L996.6 409.2L996.9 405.3L997.1 401.1L997.4 396.7L997.7 392.0L997.9 387.1L998.2 382.0L998.5 376.7L998.7 371.2L999.0 365.6L999.3 359.8L999.5 353.9L999.8 348.0L1000.1 341.9L1000.3 335.8L1000.6 329.6L1000.9 323.4L1001.1 317.2L1001.4 311.0L1001.7 304.8L1001.9 298.7L1002.2 292.7L1002.5 286.7L1002.7 280.8L1003.0 275.0L1003.3 269.4L1003.5 263.9L1003.8 258.6L1004.1 253.5L1004.3 248.6L1004.6 243.9L1004.9 239.5L1005.1 235.3L1005.4 231.4L1005.7 227.8L1005.9 224.5L1006.2 221.6L1006.5 219.0L1006.7 216.8L1007.0 214.9L1007.3 216.7L1007.7 218.9L1008.0 221.5L1008.3 224.4L1008.6 227.6L1009.0 231.2L1009.3 235.0L1009.6 239.1L1009.9 243.5L1010.3 248.1L1010.6 252.9L1010.9 257.9L1011.2 263.1L1011.6 268.5L1011.9 274.0L1012.2 279.7L1012.5 285.5L1012.9 291.4L1013.2 297.4L1013.5 303.5L1013.8 309.6L1014.2 315.7L1014.5 321.9L1014.8 328.0L1015.2 334.2L1015.5 340.3L1015.8 346.3L1016.1 352.3L1016.5 358.2L1016.8 364.0L1017.1 369.7L1017.4 375.2L1017.8 380.6L1018.1 385.9L1018.4 390.9L1018.7 395.7L1019.1 400.3L1019.4 404.7L1019.7 408.8L1020.0 412.6L1020.4 416.1L1020.7 419.3L1021.0 422.3L1021.3 424.8L1021.7 427.0L1022.0 428.8L1022.3 427.0L1022.7 424.8L1023.0 422.2L1023.3 419.3L1023.7 416.0L1024.0 412.4L1024.3 408.5L1024.7 404.4L1025.0 399.9L1025.3 395.3L1025.7 390.4L1026.0 385.3L1026.3 380.0L1026.7 374.5L1027.0 368.9L1027.3 363.2L1027.7 357.3L1028.0 351.4L1028.3 345.3L1028.7 339.2L1029.0 333.1L1029.3 326.9L1029.7 320.7L1030.0 314.6L1030.3 308.4L1030.7 302.3L1031.0 296.3L1031.3 290.3L1031.7 284.5L1032.0 278.7L1032.3 273.1L1032.7 267.7L1033.0 262.4L1033.3 257.3L1033.7 252.4L1034.0 247.7L1034.3 243.3L1034.7 239.1L1035.0 235.3L1035.3 231.7L1035.7 228.4L1036.0 225.5L1036.3 222.9L1036.7 220.7L1037.0 218.8L1037.4 220.7L1037.7 222.9L1038.1 225.6L1038.5 228.6L1038.9 231.9L1039.2 235.6L1039.6 239.6L1040.0 243.8L1040.3 248.4L1040.7 253.2L1041.1 258.2L1041.5 263.4L1041.8 268.8L1042.2 274.4L1042.6 280.1L1043.0 285.9L1043.3 291.9L1043.7 298.0L1044.1 304.1L1044.4 310.2L1044.8 316.4L1045.2 322.6L1045.6 328.8L1045.9 335.0L1046.3 341.1L1046.7 347.2L1047.0 353.1L1047.4 359.0L1047.8 364.7L1048.2 370.3L1048.5 375.7L1048.9 380.9L1049.3 385.9L1049.7 390.7L1050.0 395.2L1050.4 399.5L1050.8 403.5L1051.1 407.1L1051.5 410.5L1051.9 413.5L1052.3 416.1L1052.6 418.4L1053.0 420.2L1053.4 418.4L1053.7 416.3L1054.1 413.9L1054.4 411.1L1054.8 408.1L1055.1 404.8L1055.5 401.2L1055.8 397.5L1056.2 393.4L1056.5 389.2L1056.9 384.7L1057.2 380.1L1057.6 375.3L1057.9 370.3L1058.3 365.2L1058.6 359.9L1059.0 354.6L1059.3 349.1L1059.7 343.5L1060.0 337.9L1060.4 332.2L1060.8 326.4L1061.1 320.6L1061.5 314.8L1061.8 309.0L1062.2 303.1L1062.5 297.3L1062.9 291.6L1063.2 285.8L1063.6 280.2L1063.9 274.6L1064.3 269.1L1064.6 263.7L1065.0 258.4L1065.3 253.2L1065.7 248.2L1066.0 243.3L1066.4 238.6L1066.7 234.1L1067.1 229.8L1067.4 225.7L1067.8 221.9L1068.1 218.2L1068.5 214.8L1069.4 209.0L1070.3 203.2L1071.2 197.4L1072.1 191.9L1073.0 186.6L1074.0 181.8L1074.9 177.5L1075.8 173.8L1076.7 170.9L1077.6 168.8L1077.8 170.6L1078.0 172.8L1078.2 175.4L1078.5 178.3L1078.7 181.5L1078.9 185.0L1079.1 188.8L1079.3 192.9L1079.5 197.3L1079.8 201.9L1080.0 206.7L1080.2 211.7L1080.4 216.9L1080.6 222.3L1080.8 227.8L1081.0 233.5L1081.3 239.3L1081.5 245.1L1081.7 251.1L1081.9 257.1L1082.1 263.1L1082.3 269.2L1082.6 275.3L1082.8 281.4L1083.0 287.4L1083.2 293.5L1083.4 299.4L1083.6 305.3L1083.9 311.0L1084.1 316.7L1084.3 322.2L1084.5 327.6L1084.7 332.8L1084.9 337.8L1085.1 342.6L1085.4 347.2L1085.6 351.6L1085.8 355.7L1086.0 359.5L1086.2 363.0L1086.4 366.3L1086.7 369.2L1086.9 371.7L1087.1 373.9L1087.3 375.7L1087.6 373.8L1087.9 371.5L1088.2 368.7L1088.5 365.4L1088.8 361.8L1089.1 357.8L1089.4 353.5L1089.7 348.9L1090.0 344.0L1090.3 338.8L1090.6 333.4L1090.9 327.8L1091.2 322.1L1091.5 316.2L1091.8 310.2L1092.1 304.1L1092.4 298.0L1092.7 291.8L1092.9 285.6L1093.2 279.5L1093.5 273.4L1093.8 267.4L1094.1 261.5L1094.4 255.7L1094.7 250.2L1095.0 244.8L1095.3 239.6L1095.6 234.7L1095.9 230.1L1096.2 225.8L1096.5 221.8L1096.8 218.2L1097.1 214.9L1097.4 212.1L1097.7 209.8L1098.0 207.9L1098.3 209.8L1098.7 212.3L1099.0 215.2L1099.4 218.6L1099.7 222.5L1100.1 226.7L1100.4 231.3L1100.8 236.2L1101.1 241.4L1101.4 246.9L1101.8 252.5L1102.1 258.4L1102.5 264.4L1102.8 270.5L1103.2 276.6L1103.5 282.8L1103.8 289.0L1104.2 295.2L1104.5 301.3L1104.9 307.3L1105.2 313.1L1105.6 318.8L1105.9 324.2L1106.2 329.4L1106.6 334.3L1106.9 338.9L1107.3 343.2L1107.6 347.0L1108.0 350.4L1108.3 353.4L1108.7 355.8L1109.0 357.7L1109.3 355.9L1109.6 353.7L1109.9 351.1L1110.2 348.2L1110.5 344.9L1110.7 341.3L1111.0 337.4L1111.3 333.2L1111.6 328.8L1111.9 324.1L1112.2 319.1L1112.5 314.0L1112.8 308.7L1113.1 303.3L1113.4 297.7L1113.7 291.9L1113.9 286.1L1114.2 280.1L1114.5 274.1L1114.8 268.1L1115.1 262.0L1115.4 255.9L1115.7 249.9L1116.0 243.8L1116.3 237.8L1116.6 231.9L1116.8 226.0L1117.1 220.3L1117.4 214.7L1117.7 209.2L1118.0 203.9L1118.3 198.8L1118.6 193.9L1118.9 189.2L1119.2 184.8L1119.5 180.6L1119.8 176.7L1120.0 173.1L1120.3 169.8L1120.6 166.8L1120.9 164.3L1121.2 162.0L1121.5 160.2L1121.8 162.0L1122.1 164.2L1122.4 166.7L1122.7 169.6L1123.0 172.8L1123.3 176.3L1123.6 180.1L1123.8 184.1L1124.1 188.5L1124.4 193.0L1124.7 197.8L1125.0 202.7L1125.3 207.9L1125.6 213.2L1125.9 218.7L1126.2 224.3L1126.5 230.1L1126.8 235.9L1127.1 241.8L1127.4 247.8L1127.7 253.9L1128.0 259.9L1128.2 266.0L1128.5 272.1L1128.8 278.2L1129.1 284.2L1129.4 290.2L1129.7 296.1L1130.0 302.0L1130.3 307.7L1130.6 313.3L1130.9 318.8L1131.2 324.1L1131.5 329.3L1131.8 334.3L1132.1 339.0L1132.4 343.6L1132.7 347.9L1132.9 351.9L1133.2 355.7L1133.5 359.2L1133.8 362.4L1134.1 365.3L1134.4 367.8L1134.7 370.0L1135.0 371.8L1135.3 369.8L1135.7 367.2L1136.0 363.9L1136.3 360.0L1136.7 355.6L1137.0 350.9L1137.3 345.7L1137.7 340.2L1138.0 334.5L1138.3 328.6L1138.7 322.5L1139.0 316.4L1139.3 310.3L1139.7 304.3L1140.0 298.3L1140.3 292.6L1140.7 287.1L1141.0 282.0L1141.3 277.2L1141.7 272.8L1142.0 269.0L1142.3 265.7L1142.7 263.0L1143.0 261.0L1143.4 263.0L1143.7 265.8L1144.1 269.2L1144.5 273.2L1144.8 277.8L1145.2 282.8L1145.5 288.2L1145.9 293.9L1146.3 299.9L1146.6 306.1L1147.0 312.5" stroke="#000" stroke-width="6.4"/>
<path d="M1147.0 312.5L1147.1 315.7L1147.2 319.0L1147.3 322.6L1147.4 326.3L1147.6 330.1L1147.7 334.2L1147.8 338.3L1147.9 342.6L1148.0 347.0L1148.1 351.6L1148.2 356.2L1148.3 360.9L1148.4 365.8L1148.6 370.7L1148.7 375.6L1148.8 380.7L1148.9 385.7L1149.0 390.9L1149.1 396.0L1149.2 401.2L1149.3 406.4L1149.4 411.6L1149.6 416.9L1149.7 422.1L1149.8 427.2L1149.9 432.4L1150.0 437.5L1150.1 441.6L1150.2 445.8L1150.2 450.1L1150.3 454.4L1150.4 458.8L1150.5 463.2L1150.6 467.6L1150.6 472.1L1150.7 476.7L1150.8 481.2L1150.9 485.8L1151.0 490.4L1151.0 495.1L1151.1 499.7L1151.2 504.4L1151.3 509.1L1151.4 513.7L1151.5 518.4L1151.5 523.1L1151.6 527.8L1151.7 532.5L1151.8 537.2L1151.9 541.8L1151.9 546.5L1152.0 551.1L1152.1 555.7L1152.2 560.2L1152.3 564.8L1152.3 569.3L1152.4 573.7L1152.5 578.1L1152.6 582.6L1152.7 587.2L1152.8 591.9L1152.8 596.7L1152.9 601.4L1153.0 606.0L1153.1 610.6L1153.2 614.9L1153.2 619.1L1153.3 622.9L1153.4 626.5L1153.5 629.7L1153.8 635.8L1154.0 641.5L1154.3 646.8L1154.6 651.8L1154.8 656.5L1155.1 660.9L1155.4 665.0L1155.6 668.9L1155.9 672.5L1156.2 675.9L1156.4 679.0L1156.7 682.0L1157.5 687.6L1158.4 692.9L1159.2 697.7L1160.0 702.0L1160.8 705.6L1161.7 708.5L1162.5 710.4L1163.3 708.2L1164.1 704.6L1164.9 700.2L1165.6 695.3L1166.4 690.4L1167.2 685.8L1168.0 682.0L1169.4 677.3L1170.8 672.7L1172.2 668.5L1173.6 665.1L1175.0 663.1L1176.3 665.4L1177.7 669.0L1179.0 673.6L1180.3 678.7L1181.7 684.0L1183.0 689.1L1184.0 693.3L1185.0 697.9L1186.0 702.7L1187.0 707.5L1188.0 712.2L1189.0 716.8L1190.0 721.1L1191.2 726.0L1192.5 731.0L1193.8 735.2L1195.0 737.7L1195.4 735.6L1195.9 732.2L1196.3 728.0L1196.7 723.2L1197.1 718.0L1197.6 712.8L1198.0 707.8L1198.3 703.4L1198.6 698.3L1198.9 692.8L1199.2 687.3L1199.6 682.1L1199.9 677.6L1200.2 674.0L1200.5 671.6L1200.9 673.7L1201.3 676.6L1201.7 680.3L1202.1 684.7L1202.5 689.4L1203.0 694.6L1203.4 700.0L1203.8 705.4L1204.2 710.9L1204.6 716.1L1205.0 721.1L1205.3 725.2L1205.7 729.3L1206.0 733.5L1206.3 737.7L1206.7 742.0L1207.0 746.4L1207.3 750.8L1207.7 755.4L1208.0 760.2L1208.2 764.3L1208.5 768.8L1208.7 773.4L1209.0 778.3L1209.2 783.2L1209.5 788.3L1209.7 793.3L1210.0 798.3L1210.2 803.2L1210.5 808.0L1210.7 812.6L1211.0 817.0L1211.2 821.1L1211.5 824.8L1211.7 828.1L1212.5 834.4L1213.2 840.6L1214.0 846.5L1214.8 852.1L1215.6 857.4L1216.3 862.4L1217.1 867.0L1217.9 871.1L1218.7 874.7L1219.5 877.8L1220.2 880.4L1221.0 882.3L1221.6 880.1L1222.3 876.9L1222.9 872.9L1223.5 868.3L1224.2 863.1L1224.8 857.7L1225.4 852.1L1226.1 846.6L1226.7 841.4L1227.2 837.2L1227.6 832.8L1228.1 828.3L1228.5 823.7L1229.0 819.0L1229.4 814.3L1229.9 809.5L1230.3 804.7L1230.8 799.9L1231.2 795.2L1231.7 790.6L1232.1 786.5L1232.6 782.5L1233.0 778.6L1233.4 774.7L1233.8 770.8L1234.3 766.8L1234.7 762.7L1235.1 758.3L1235.6 753.5L1236.0 748.4L1236.2 744.6L1236.4 740.2L1236.7 735.5L1236.9 730.6L1237.1 725.6L1237.3 720.8L1237.6 716.2L1237.8 712.1L1238.0 708.6L1238.6 703.0L1239.2 698.0L1239.8 693.5L1240.5 689.4L1241.1 685.6L1241.7 682.0L1242.8 677.5L1243.8 673.5L1244.8 669.8L1245.9 666.2L1247.0 662.5L1248.0 658.6L1249.0 654.5L1250.0 650.4L1251.0 646.2L1252.0 641.7L1253.0 636.7L1253.6 632.9L1254.1 628.7L1254.7 624.3L1255.3 619.7L1255.9 615.0L1256.4 610.2L1257.0 605.5L1257.5 601.2L1258.0 596.8L1258.5 592.5L1259.0 587.9L1259.5 583.2L1260.0 578.1L1260.3 574.1L1260.6 569.9L1260.9 565.4L1261.2 560.7L1261.6 556.1L1261.9 551.5L1262.2 547.1L1262.5 543.0L1262.9 537.8L1263.4 532.5L1263.8 527.3L1264.2 522.2L1264.7 517.4L1265.1 513.1L1265.6 509.3L1266.0 506.2L1267.2 502.6L1268.5 499.6L1269.8 497.3L1271.0 495.9L1272.3 497.4L1273.7 500.0L1275.0 503.1L1276.3 506.6L1277.7 510.1L1279.0 513.3L1280.2 516.6L1281.5 520.1L1282.8 523.3L1284.0 525.2L1285.2 525.3L1286.4 525.4L1287.6 525.4L1288.8 525.5L1290.0 525.6L1290.8 528.0L1291.7 531.8L1292.5 536.6L1293.3 541.9L1294.2 547.3L1295.0 552.3L1295.7 556.6L1296.4 561.0L1297.0 565.4L1297.7 570.0L1298.4 574.6L1299.1 579.2L1299.8 583.9L1300.5 588.4L1301.1 592.9L1301.8 597.3L1302.5 601.6L1303.3 605.9L1304.1 610.0L1304.9 613.9L1305.6 617.9L1306.4 622.0L1307.2 626.4L1308.0 631.2L1308.5 635.3L1308.9 639.8L1309.4 644.8L1309.8 650.0L1310.3 655.3L1310.7 660.6L1311.2 665.8L1311.6 670.6L1312.1 675.1L1312.5 678.9L1313.0 682.0L1314.2 685.9L1315.5 689.0L1316.7 690.9L1318.0 689.7L1319.2 687.8L1320.5 685.2L1321.7 682.0L1322.1 679.3L1322.4 675.9L1322.8 671.8L1323.2 667.3L1323.5 662.5L1323.9 657.5L1324.3 652.5L1324.6 647.6L1325.0 643.0L1325.3 638.7L1325.7 634.2L1326.0 629.7L1326.3 625.2L1326.7 620.7L1327.0 616.2L1327.3 611.9L1327.7 607.8L1328.0 603.9L1328.5 599.4L1329.0 595.4L1329.5 591.6L1330.0 587.7L1330.5 583.3L1331.0 578.1L1331.2 574.8L1331.4 571.0L1331.6 566.9L1331.8 562.6L1331.9 558.0L1332.1 553.2L1332.3 548.3L1332.5 543.3L1332.7 538.1L1332.9 533.0L1333.1 527.9L1333.2 522.8L1333.4 517.8L1333.6 513.0L1333.8 508.3L1334.0 503.9L1334.2 499.0L1334.5 494.2L1334.7 489.4L1334.9 484.7L1335.2 480.1L1335.4 475.5L1335.6 471.0L1335.9 466.5L1336.1 462.0L1336.4 457.5L1336.6 453.0L1336.8 448.6L1337.1 444.1L1337.3 439.6L1337.5 435.0L1337.8 430.4L1338.0 425.8L1338.2 421.2L1338.4 416.6L1338.7 411.8L1338.9 407.0L1339.1 402.1L1339.3 397.2L1339.6 392.3L1339.8 387.4L1340.0 382.6L1340.2 377.8L1340.4 373.0L1340.7 368.4L1340.9 363.9L1341.1 359.5L1341.3 355.3L1341.6 351.2L1341.8 347.4L1342.0 343.8L1342.4 338.4L1342.9 333.0L1343.3 327.7L1343.8 322.7L1344.2 318.2L1344.6 314.3L1345.1 311.2L1345.5 309.1L1345.7 311.3L1346.0 314.5L1346.2 318.5L1346.4 323.2L1346.6 328.4L1346.9 333.8L1347.1 339.4L1347.3 344.9L1347.5 350.2L1347.8 355.1L1348.0 359.4L1348.3 364.4L1348.7 369.4L1349.0 374.2L1349.4 379.0L1349.7 383.7L1350.1 388.2L1350.4 392.6L1350.8 396.9L1351.1 401.0L1351.5 404.9L1351.8 408.7L1352.2 412.3L1352.5 415.6L1353.3 421.0L1354.1 426.4L1354.8 431.6L1355.6 436.6L1356.4 441.1L1357.2 445.2L1357.9 448.7L1358.7 451.4L1359.5 453.4L1360.1 451.4L1360.7 448.5L1361.3 444.9L1361.9 440.7L1362.5 436.1L1363.0 431.1L1363.6 426.0L1364.2 420.8L1364.8 415.7L1365.4 410.8L1366.0 406.2L1366.6 401.8L1367.2 397.5L1367.8 393.3L1368.5 389.0L1369.1 384.8L1369.7 380.6L1370.3 376.3L1370.9 372.0L1371.5 367.5L1372.2 362.8L1372.8 358.0L1373.4 353.0L1374.0 347.7L1374.3 343.7L1374.7 339.4L1375.0 334.6L1375.3 329.6L1375.7 324.3L1376.0 318.8L1376.3 313.3L1376.7 307.7L1377.0 302.2L1377.3 296.8L1377.7 291.6L1378.0 286.6L1378.3 282.0L1378.7 277.8L1379.0 274.0L1379.3 270.8L1379.7 268.1L1380.0 266.2L1380.4 268.1L1380.8 270.6L1381.1 273.7L1381.5 277.2L1381.9 281.2L1382.2 285.6L1382.6 290.4L1383.0 295.3L1383.4 300.6L1383.8 306.0L1384.1 311.5L1384.5 317.0L1384.9 322.6L1385.2 328.1L1385.6 333.5L1386.0 338.7L1386.4 343.8L1386.8 348.5L1387.1 353.0L1387.5 357.0L1388.1 362.1L1388.7 367.2L1389.3 372.2L1389.9 377.1L1390.5 381.8L1391.0 386.4L1391.6 390.8L1392.2 395.0L1392.8 399.0L1393.4 402.8L1394.0 406.2L1395.2 411.2L1396.4 416.1L1397.6 420.4L1398.8 423.9L1400.0 426.0L1401.2 424.3L1402.5 421.8L1403.8 418.5L1405.0 414.7L1406.2 410.6L1407.5 406.2L1408.1 403.0L1408.7 399.3L1409.2 395.2L1409.8 390.9L1410.4 386.3L1411.0 381.5L1411.5 376.6L1412.1 371.6L1412.7 366.6L1413.3 361.7L1413.8 356.8L1414.4 352.1L1415.0 347.7L1415.6 342.9L1416.2 338.0L1416.9 332.8L1417.5 327.5L1418.1 322.2L1418.8 316.8L1419.4 311.5L1420.0 306.3L1420.6 301.4L1421.2 296.6L1421.9 292.2L1422.5 288.2L1423.1 284.6L1423.8 281.5L1424.4 279.0L1425.0 277.1L1425.5 279.0L1426.1 281.2L1426.6 283.9L1427.2 287.0L1427.7 290.4L1428.3 294.1L1428.8 298.2L1429.4 302.5L1429.9 307.1L1430.5 312.0L1431.0 317.1L1431.6 322.4L1432.1 327.9L1432.7 333.5L1433.2 339.3L1433.8 345.2L1434.3 351.2L1434.9 357.3L1435.4 363.4L1436.0 369.6L1436.5 375.7L1437.1 381.9L1437.6 388.0L1438.2 394.1L1438.7 400.1L1439.3 406.0L1439.8 411.8L1440.4 417.4L1440.9 422.9L1441.5 428.2L1442.0 433.3L1442.6 438.2L1443.1 442.8L1443.7 447.2L1444.2 451.2L1444.8 454.9L1445.3 458.4L1445.9 461.4L1446.4 464.1L1447.0 466.3L1447.5 468.2L1447.9 466.4L1448.3 464.2L1448.7 461.8L1449.0 459.0L1449.4 455.9L1449.8 452.5L1450.2 448.9L1450.6 445.0L1451.0 440.9L1451.3 436.5L1451.7 431.9L1452.1 427.1L1452.5 422.2L1452.9 417.0L1453.3 411.7L1453.7 406.3L1454.0 400.7L1454.4 395.0L1454.8 389.1L1455.2 383.2L1455.6 377.2L1456.0 371.2L1456.3 365.0L1456.7 358.9L1457.1 352.7L1457.5 346.5L1457.9 340.3L1458.3 334.1L1458.7 327.9L1459.0 321.8L1459.4 315.8L1459.8 309.8L1460.2 303.8L1460.6 298.0L1461.0 292.3L1461.3 286.7L1461.7 281.3L1462.1 275.9L1462.5 270.8L1462.9 265.8L1463.3 261.0L1463.7 256.5L1464.0 252.1L1464.4 248.0L1464.8 244.1L1465.2 240.4L1465.6 237.1L1466.0 234.0L1466.3 231.2L1466.7 228.7L1467.1 226.6L1467.5 224.8L1468.1 226.6L1468.7 228.8L1469.3 231.5L1469.9 234.5L1470.5 237.8L1471.2 241.5L1471.8 245.5L1472.4 249.8L1473.0 254.4L1473.6 259.1L1474.2 264.2L1474.8 269.4L1475.4 274.8L1476.0 280.4L1476.6 286.1L1477.3 291.9L1477.9 297.8L1478.5 303.8L1479.1 309.8L1479.7 315.9L1480.3 322.0L1480.9 328.1L1481.5 334.1L1482.1 340.1L1482.7 346.0L1483.4 351.8L1484.0 357.5L1484.6 363.1L1485.2 368.5L1485.8 373.7L1486.4 378.7L1487.0 383.5L1487.6 388.1L1488.2 392.4L1488.8 396.4L1489.5 400.1L1490.1 403.4L1490.7 406.4L1491.3 409.1L1491.9 411.3L1492.5 413.1L1493.2 411.3L1493.9 408.9L1494.5 406.2L1495.2 403.0L1495.9 399.5L1496.6 395.6L1497.2 391.3L1497.9 386.8L1498.6 382.0L1499.3 376.9L1499.9 371.7L1500.6 366.2L1501.3 360.5L1502.0 354.7L1502.6 348.8L1503.3 342.8L1504.0 336.7L1504.7 330.6L1505.3 324.5L1506.0 318.4L1506.7 312.3L1507.4 306.3L1508.0 300.4L1508.7 294.6L1509.4 288.9L1510.1 283.4L1510.7 278.1L1511.4 273.1L1512.1 268.3L1512.8 263.7L1513.4 259.5L1514.1 255.6L1514.8 252.1L1515.5 248.9L1516.1 246.1L1516.8 243.8L1517.5 242.0L1518.2 243.8L1518.9 246.1L1519.7 248.9L1520.4 252.0L1521.1 255.5L1521.8 259.4L1522.6 263.6L1523.3 268.0L1524.0 272.8L1524.7 277.8L1525.5 283.1L1526.2 288.5L1526.9 294.1L1527.6 299.9L1528.4 305.8L1529.1 311.8L1529.8 317.8L1530.5 323.9L1531.2 330.1L1532.0 336.2L1532.7 342.3L1533.4 348.4L1534.1 354.4L1534.9 360.3L1535.6 366.0L1536.3 371.7L1537.0 377.1L1537.8 382.3L1538.5 387.4L1539.2 392.1L1539.9 396.6L1540.7 400.8L1541.4 404.7L1542.1 408.2L1542.8 411.3L1543.6 414.0L1544.3 416.3L1545.0 418.2L1545.8 416.3L1546.5 413.9L1547.3 411.1L1548.1 407.8L1548.8 404.1L1549.6 400.0L1550.4 395.6L1551.1 390.9L1551.9 385.9L1552.6 380.6L1553.4 375.2L1554.2 369.5L1554.9 363.7L1555.7 357.7L1556.5 351.7L1557.2 345.6L1558.0 339.5L1558.8 333.3L1559.5 327.2L1560.3 321.2L1561.1 315.2L1561.8 309.4L1562.6 303.8L1563.4 298.3L1564.1 293.0L1564.9 288.0L1565.6 283.3L1566.4 278.9L1567.2 274.8L1567.9 271.1L1568.7 267.8L1569.5 265.0L1570.2 262.6L1571.0 260.7L1571.7 262.6L1572.5 265.0L1573.2 267.8L1573.9 271.1L1574.7 274.8L1575.4 278.9L1576.1 283.3L1576.9 288.0L1577.6 293.0L1578.4 298.3L1579.1 303.8L1579.8 309.4L1580.6 315.2L1581.3 321.2L1582.0 327.2L1582.8 333.3L1583.5 339.5L1584.2 345.6L1585.0 351.7L1585.7 357.7L1586.4 363.7L1587.2 369.5L1587.9 375.2L1588.6 380.6L1589.4 385.9L1590.1 390.9L1590.9 395.6L1591.6 400.0L1592.3 404.1L1593.1 407.8L1593.8 411.1L1594.5 413.9L1595.3 416.3L1596.0 418.2L1596.8 416.4L1597.5 414.2L1598.2 411.6L1599.0 408.6L1599.8 405.4L1600.5 401.8L1601.2 397.9L1602.0 393.7L1602.8 389.3L1603.5 384.6L1604.2 379.7L1605.0 374.6L1605.8 369.3L1606.5 363.9L1607.2 358.3L1608.0 352.5L1608.8 346.7L1609.5 340.7L1610.2 334.7L1611.0 328.6L1611.8 322.5L1612.5 316.4L1613.2 310.3L1614.0 304.2L1614.8 298.1L1615.5 292.1L1616.2 286.1L1617.0 280.3L1617.8 274.6L1618.5 269.0L1619.2 263.5L1620.0 258.2L1620.8 253.1L1621.5 248.2L1622.2 243.5L1623.0 239.1L1623.8 234.9L1624.5 231.0L1625.2 227.5L1626.0 224.2L1626.8 221.2L1627.5 218.7L1628.2 216.4L1629.0 214.6L1629.9 216.5L1630.7 218.8L1631.6 221.6L1632.5 224.8L1633.3 228.4L1634.2 232.4L1635.1 236.6L1635.9 241.2L1636.8 246.1L1637.6 251.2L1638.5 256.6L1639.4 262.1L1640.2 267.8L1641.1 273.7L1642.0 279.7L1642.8 285.7L1643.7 291.9L1644.6 298.1L1645.4 304.3L1646.3 310.5L1647.2 316.6L1648.0 322.7L1648.9 328.7L1649.8 334.5L1650.6 340.2L1651.5 345.8L1652.4 351.1L1653.2 356.3L1654.1 361.1L1654.9 365.7L1655.8 370.0L1656.7 373.9L1657.5 377.5L1658.4 380.7L1659.3 383.5L1660.1 385.8L1661.0 387.7L1661.8 385.9L1662.5 383.7L1663.3 381.0L1664.0 378.0L1664.8 374.6L1665.5 370.9L1666.3 366.8L1667.1 362.5L1667.8 357.9L1668.6 353.1L1669.3 348.0L1670.1 342.8L1670.8 337.3L1671.6 331.7L1672.4 326.0L1673.1 320.1L1673.9 314.2L1674.6 308.2L1675.4 302.2L1676.2 296.1L1676.9 290.0L1677.7 284.0L1678.4 278.0L1679.2 272.0L1679.9 266.2L1680.7 260.5L1681.5 254.9L1682.2 249.4L1683.0 244.2L1683.7 239.1L1684.5 234.3L1685.2 229.7L1686.0 225.4L1686.8 221.3L1687.5 217.6L1688.3 214.2L1689.0 211.2L1689.8 208.5L1690.5 206.3L1691.3 204.5L1692.0 206.3L1692.6 208.4L1693.3 210.9L1693.9 213.7L1694.6 216.8L1695.2 220.2L1695.9 223.9L1696.6 227.8L1697.2 232.0L1697.9 236.4L1698.5 241.0L1699.2 245.8L1699.8 250.9L1700.5 256.1L1701.2 261.4L1701.8 266.9L1702.5 272.5L1703.1 278.2L1703.8 284.1L1704.4 290.0L1705.1 296.0L1705.8 302.0L1706.4 308.1L1707.1 314.1L1707.7 320.2L1708.4 326.3L1709.0 332.4L1709.7 338.4L1710.4 344.4L1711.0 350.3L1711.7 356.1L1712.3 361.9L1713.0 367.5L1713.6 373.0L1714.3 378.3L1715.0 383.5L1715.6 388.5L1716.3 393.4L1716.9 398.0L1717.6 402.4L1718.2 406.6L1718.9 410.5L1719.6 414.2L1720.2 417.6L1720.9 420.7L1721.5 423.5L1722.2 426.0L1722.8 428.1L1723.5 429.9L1724.4 428.1L1725.2 425.8L1726.1 423.2L1727.0 420.2L1727.9 416.9L1728.7 413.2L1729.6 409.3L1730.5 405.0L1731.3 400.5L1732.2 395.7L1733.1 390.7L1734.0 385.6L1734.8 380.2L1735.7 374.6L1736.6 368.9L1737.5 363.1L1738.3 357.2L1739.2 351.2L1740.1 345.1L1740.9 338.9L1741.8 332.8L1742.7 326.6L1743.6 320.4L1744.4 314.3L1745.3 308.2L1746.2 302.2L1747.0 296.3L1747.9 290.4L1748.8 284.7L1749.7 279.2L1750.5 273.8L1751.4 268.6L1752.3 263.6L1753.2 258.9L1754.0 254.4L1754.9 250.1L1755.8 246.2L1756.6 242.5L1757.5 239.2L1758.4 236.2L1759.3 233.5L1760.1 231.3L1761.0 229.5L1761.9 231.3L1762.8 233.6L1763.7 236.2L1764.5 239.3L1765.4 242.7L1766.3 246.5L1767.2 250.6L1768.1 254.9L1769.0 259.6L1769.8 264.5L1770.7 269.6L1771.6 274.9L1772.5 280.4L1773.4 286.0L1774.3 291.8L1775.2 297.7L1776.0 303.6L1776.9 309.7L1777.8 315.7L1778.7 321.8L1779.6 327.8L1780.5 333.9L1781.3 339.8L1782.2 345.7L1783.1 351.5L1784.0 357.1L1784.9 362.6L1785.8 367.9L1786.7 373.0L1787.5 377.9L1788.4 382.6L1789.3 386.9L1790.2 391.0L1791.1 394.8L1792.0 398.2L1792.8 401.3L1793.7 403.9L1794.6 406.2L1795.5 408.0L1796.6 406.2L1797.6 403.8L1798.7 400.9L1799.7 397.6L1800.8 393.9L1801.9 389.9L1802.9 385.5L1804.0 380.7L1805.0 375.7L1806.1 370.5L1807.1 365.0L1808.2 359.3L1809.3 353.5L1810.3 347.6L1811.4 341.5L1812.4 335.4L1813.5 329.3L1814.6 323.2L1815.6 317.1L1816.7 311.0L1817.7 305.1L1818.8 299.3L1819.9 293.6L1820.9 288.1L1822.0 282.9L1823.0 277.9L1824.1 273.1L1825.1 268.7L1826.2 264.7L1827.3 261.0L1828.3 257.7L1829.4 254.8L1830.4 252.4L1831.5 250.6L1832.7 252.4L1833.8 254.8L1835.0 257.6L1836.1 260.9L1837.3 264.5L1838.5 268.6L1839.6 273.0L1840.8 277.7L1842.0 282.6L1843.1 287.8L1844.3 293.3L1845.4 298.9L1846.6 304.7L1847.8 310.6L1848.9 316.6L1850.1 322.6L1851.2 328.7L1852.4 334.8L1853.6 340.9L1854.7 346.8L1855.9 352.7L1857.1 358.5L1858.2 364.1L1859.4 369.6L1860.5 374.8L1861.7 379.8L1862.9 384.5L1864.0 388.8L1865.2 392.9L1866.4 396.5L1867.5 399.8L1868.7 402.6L1869.8 405.0L1871.0 406.9L1871.9 404.9L1872.9 402.2L1873.8 398.8L1874.8 394.9L1875.7 390.5L1876.7 385.7L1877.6 380.5L1878.6 375.1L1879.5 369.5L1880.4 363.9L1881.4 358.2L1882.3 352.5L1883.3 347.0L1884.2 341.7L1885.2 336.7L1886.1 332.1L1887.1 327.9L1888.0 324.2L1889.4 320.4L1890.9 316.6L1892.3 312.8L1893.8 309.3L1895.2 306.1L1896.6 303.4L1898.1 301.2L1899.5 299.8L1900.8 301.7L1902.0 304.0L1903.3 306.9L1904.6 310.2L1905.9 314.0L1907.1 318.1L1908.4 322.5L1909.7 327.3L1911.0 332.3L1912.2 337.6L1913.5 343.1L1914.8 348.8L1916.0 354.7L1917.3 360.6L1918.6 366.6L1919.9 372.7L1921.1 378.8L1922.4 384.9L1923.7 391.0L1925.0 396.9L1926.2 402.7L1927.5 408.4L1928.8 413.9L1930.0 419.2L1931.3 424.3L1932.6 429.1L1933.9 433.5L1935.1 437.6L1936.4 441.3L1937.7 444.6L1939.0 447.5L1940.2 449.9L1941.5 451.8L1942.5 449.9L1943.6 447.6L1944.6 444.8L1945.7 441.6L1946.7 438.0L1947.8 434.1L1948.8 429.8L1949.8 425.2L1950.9 420.3L1951.9 415.2L1953.0 409.9L1954.0 404.3L1955.1 398.7L1956.1 392.8L1957.1 386.9L1958.2 380.9L1959.2 374.9L1960.3 368.9L1961.3 362.8L1962.4 356.8L1963.4 350.9L1964.4 345.1L1965.5 339.4L1966.5 333.9L1967.6 328.5L1968.6 323.4L1969.7 318.5L1970.7 314.0L1971.7 309.7L1972.8 305.7L1973.8 302.1L1974.9 298.9L1975.9 296.1L1977.0 293.8L1978.0 292.0L1978.8 293.9L1979.5 296.6L1980.2 299.9L1981.0 303.8L1981.8 308.2L1982.5 313.0L1983.2 318.0L1984.0 323.2L1984.8 328.5L1985.5 333.7L1986.2 338.8L1987.0 343.8L1987.6 347.9L1988.2 352.1L1988.7 356.3L1989.3 360.7L1989.9 365.1L1990.5 369.6L1991.0 374.1L1991.6 378.7L1992.2 383.3L1992.8 388.0L1993.3 392.8L1993.9 397.5L1994.5 402.3L1995.0 406.6L1995.4 411.1L1995.9 415.6L1996.4 420.2L1996.8 424.9L1997.3 429.6L1997.8 434.3L1998.2 439.1L1998.7 443.8L1999.2 448.5L1999.7 453.2L2000.1 457.8L2000.6 462.3L2001.1 466.7L2001.5 470.9L2002.0 475.0L2002.6 479.7L2003.2 484.2L2003.9 488.7L2004.5 493.0L2005.1 497.3L2005.8 501.4L2006.4 505.4L2007.0 509.4L2007.8 514.1L2008.7 518.9L2009.5 523.5L2010.3 527.9L2011.2 531.8L2012.0 535.2L2013.3 538.3L2014.6 541.4L2015.9 544.2L2017.1 546.8L2018.4 549.0L2019.7 550.6L2021.0 551.8L2022.3 550.4L2023.6 548.2L2024.9 545.4L2026.1 542.5L2027.4 539.7L2028.7 537.5L2030.0 536.1L2031.0 538.3L2032.0 541.7L2033.0 546.1L2034.0 551.0L2035.0 556.2L2035.4 559.4L2035.8 562.9L2036.2 566.7L2036.6 570.7L2037.1 575.0L2037.5 579.4L2037.9 584.0L2038.3 588.8L2038.7 593.8L2039.0 597.6L2039.2 601.7L2039.5 606.0L2039.7 610.5L2040.0 615.1L2040.2 619.8L2040.5 624.6L2040.7 629.5L2041.0 634.4L2041.2 638.6L2041.4 642.9L2041.6 647.4L2041.8 651.9L2042.0 656.5L2042.2 661.2L2042.4 665.9L2042.6 670.7L2042.8 675.5L2042.9 680.3L2043.1 685.1L2043.3 689.9L2043.5 694.7L2043.7 699.5L2043.9 704.3L2044.1 709.0L2044.3 713.6L2044.5 718.2L2044.7 722.7L2044.9 727.4L2045.1 732.1L2045.4 736.8L2045.6 741.5L2045.8 746.1L2046.0 750.7L2046.2 755.2L2046.5 759.8L2046.7 764.3L2046.9 768.8L2047.1 773.3L2047.3 777.7L2047.6 782.2L2047.8 786.7L2048.0 791.2L2048.2 795.6L2048.5 800.1L2048.7 804.6L2048.9 809.1L2049.1 813.7L2049.3 818.2L2049.6 822.8L2049.8 827.4L2050.0 832.0L2050.2 836.6L2050.4 841.1L2050.6 845.8L2050.8 850.4L2051.0 855.1L2051.2 859.9L2051.5 864.6L2051.7 869.4L2051.9 874.2L2052.1 879.0L2052.3 883.8L2052.5 888.5L2052.7 893.3L2052.9 898.0L2053.1 902.7L2053.3 907.3L2053.5 911.9L2053.8 916.5L2054.0 920.9L2054.2 925.4L2054.4 929.7L2054.6 933.9L2054.8 938.1L2055.0 942.2L2055.3 947.3L2055.6 952.5L2055.9 957.6L2056.2 962.7L2056.5 967.8L2056.8 972.8L2057.1 977.8L2057.4 982.7L2057.8 987.5L2058.1 992.2L2058.4 996.7L2058.7 1001.2L2059.0 1005.5L2059.3 1009.6L2059.6 1013.5L2059.9 1017.3L2060.2 1020.9L2060.5 1024.2L2061.3 1029.7L2062.0 1035.0L2062.8 1039.9L2063.5 1044.4L2064.3 1048.5L2065.0 1051.9L2065.8 1054.7L2067.2 1056.7L2068.6 1058.3L2070.0 1059.4L2071.2 1059.5L2072.4 1059.6L2073.6 1059.7L2074.8 1059.8L2076.0 1059.8" stroke="#000" stroke-width="5.8"/>
<path d="M362.0 1059.7L363.5 1059.7L364.9 1059.7L366.4 1059.7L367.8 1059.7L369.3 1059.7L370.7 1059.7L372.2 1059.7L373.6 1059.7L375.1 1059.7L376.6 1059.7L378.0 1059.7L379.5 1059.7L380.9 1059.7L382.4 1059.7L383.8 1059.7L385.3 1059.7L386.8 1059.7L388.2 1059.7L389.7 1059.7L391.1 1059.7L392.6 1059.7L394.0 1059.7L395.5 1059.7L396.9 1059.7L398.4 1059.7L399.9 1059.7L401.3 1059.7L402.8 1059.7L404.2 1059.7L405.7 1059.7L407.1 1059.7L408.6 1059.7L410.0 1059.7L411.5 1059.7L412.7 1059.3L413.8 1058.7L415.0 1057.8L416.0 1054.4L417.0 1049.2L417.4 1046.2L417.8 1042.7L418.1 1038.9L418.5 1035.2L418.9 1031.6L419.2 1028.2L419.6 1024.7L419.9 1020.6L420.3 1015.6L420.4 1012.7L420.5 1009.4L420.6 1005.7L420.7 1001.6L420.9 997.3L421.0 992.8L421.1 988.0L421.2 983.1L421.3 978.0L421.4 972.9L421.5 967.7L421.6 962.4L421.8 957.2L421.9 952.1L422.0 947.1L422.1 942.2L422.2 937.5L422.3 932.9L422.4 928.3L422.5 923.7L422.6 919.1L422.8 914.5L422.9 909.9L423.0 905.3L423.1 900.7L423.2 896.1L423.3 891.5L423.4 886.9L423.5 882.3L423.7 877.7L423.8 873.1L423.9 868.5L424.0 863.9L424.1 859.4L424.2 854.7L424.3 850.0L424.4 845.4L424.6 840.7L424.7 836.0L424.8 831.4L424.9 826.7L425.0 822.1L425.1 817.5L425.3 812.8L425.4 808.2L425.5 803.6L425.6 798.9L425.7 794.3L425.8 789.7L425.9 785.1L426.1 780.4L426.2 775.8L426.3 771.2L426.4 766.6L426.5 762.0L426.6 757.4L426.8 752.8L426.9 748.2L427.0 743.5L427.1 738.9L427.2 734.3L427.3 729.7L427.5 725.1L427.6 720.5L427.7 715.8L427.8 711.2L427.9 706.6L428.0 702.0L428.1 697.3L428.3 692.7L428.4 688.1L428.5 683.4L428.6 678.8L428.7 674.1L428.8 669.5L429.0 664.8L429.1 660.1L429.2 655.5L429.3 650.8L429.4 646.2L429.5 641.6L429.6 637.1L429.7 632.5L429.9 627.9L430.0 623.3L430.1 618.7L430.2 614.1L430.3 609.5L430.4 604.9L430.5 600.3L430.6 595.6L430.8 591.0L430.9 586.4L431.0 581.8L431.1 577.1L431.2 572.5L431.3 567.9L431.4 563.2L431.5 558.6L431.6 554.0L431.8 549.3L431.9 544.7L432.0 540.1L432.1 535.4L432.2 530.8L432.3 526.1L432.4 521.5L432.5 516.9L432.7 512.2L432.8 507.6L432.9 503.0L433.0 498.3L433.1 493.7L433.2 489.1L433.3 484.5L433.4 479.9L433.5 475.2L433.7 470.6L433.8 466.0L433.9 461.4L434.0 456.8L434.1 452.2L434.2 447.6L434.3 443.0L434.4 438.4L434.6 433.9L434.7 429.3L434.8 424.7L434.9 420.2L435.0 415.6L435.1 410.9L435.2 406.0L435.3 400.8L435.4 395.5L435.6 390.1L435.7 384.7L435.8 379.3L435.9 374.1L436.0 369.0L436.1 364.2L436.2 359.7L436.4 355.5L436.5 351.8L436.6 348.5L436.7 345.8L436.8 343.8L437.2 342.6L437.6 341.4L437.7 338.9L437.8 335.2L437.9 330.4L438.0 325.0L438.1 319.1L438.2 313.0L438.4 306.9L438.5 301.0L438.6 295.8L438.7 291.3L438.8 287.9L438.9 285.7L439.0 287.7L439.1 290.9L439.2 295.1L439.3 300.0L439.4 305.5L439.5 311.3L439.6 317.2L439.7 323.0L439.8 328.5L439.9 333.4L440.0 337.6L440.1 340.8L440.2 342.7L440.3 340.7L440.4 337.5L440.5 333.3L440.6 328.3L440.7 322.7L440.8 316.7L440.9 310.5L440.9 304.3L441.0 298.4L441.1 292.8L441.2 287.8L441.3 283.6L441.4 280.3L441.5 278.3L441.6 280.3L441.7 283.5L441.8 287.7L441.9 292.6L442.0 298.1L442.1 304.0L442.2 310.1L442.2 316.2L442.3 322.2L442.4 327.7L442.5 332.6L442.6 336.8L442.7 340.0L442.8 342.0L442.9 340.1L442.9 337.4L443.0 333.8L443.1 329.5L443.2 324.6L443.2 319.3L443.3 313.6L443.4 307.7L443.5 301.7L443.5 295.7L443.6 289.8L443.7 284.1L443.7 278.8L443.8 274.0L443.9 269.7L444.0 266.1L444.0 263.3L444.1 261.5L444.2 263.4L444.3 266.3L444.3 270.0L444.4 274.5L444.5 279.5L444.6 285.0L444.6 290.8L444.7 296.9L444.8 303.0L444.9 309.0L444.9 314.8L445.0 320.3L445.1 325.4L445.2 329.8L445.2 333.6L445.3 336.4L445.4 338.3L445.5 336.5L445.5 333.7L445.6 330.2L445.7 325.9L445.7 321.1L445.8 315.8L445.9 310.1L445.9 304.1L446.0 297.9L446.1 291.6L446.1 285.3L446.2 279.1L446.2 273.1L446.3 267.4L446.4 262.1L446.4 257.3L446.5 253.1L446.6 249.5L446.6 246.8L446.7 244.9L446.8 246.7L446.8 249.4L446.9 252.8L447.0 256.9L447.0 261.5L447.1 266.7L447.2 272.2L447.2 277.9L447.3 283.9L447.4 290.0L447.4 296.1L447.5 302.0L447.5 307.8L447.6 313.3L447.7 318.4L447.7 323.1L447.8 327.2L447.9 330.6L447.9 333.3L448.0 335.1L448.1 333.3L448.1 330.9L448.2 327.9L448.2 324.3L448.3 320.1L448.3 315.6L448.4 310.6L448.4 305.2L448.5 299.6L448.5 293.8L448.6 287.8L448.6 281.7L448.7 275.5L448.7 269.3L448.8 263.2L448.8 257.2L448.9 251.4L448.9 245.8L449.0 240.4L449.0 235.5L449.1 230.9L449.1 226.8L449.2 223.1L449.2 220.1L449.3 217.7L449.3 215.9L449.3 217.7L449.4 220.1L449.4 223.2L449.5 226.8L449.5 230.9L449.6 235.5L449.6 240.4L449.7 245.8L449.7 251.4L449.8 257.2L449.8 263.3L449.9 269.5L449.9 275.7L450.0 282.0L450.0 288.3L450.1 294.5L450.1 300.5L450.2 306.4L450.2 312.0L450.3 317.3L450.3 322.3L450.4 326.9L450.4 331.0L450.5 334.6L450.5 337.6L450.6 340.1L450.6 341.8L450.6 340.1L450.7 337.8L450.7 335.0L450.8 331.7L450.8 327.9L450.9 323.7L450.9 319.1L450.9 314.1L451.0 308.9L451.0 303.4L451.1 297.7L451.1 291.7L451.1 285.7L451.2 279.5L451.2 273.3L451.3 267.1L451.3 260.9L451.4 254.7L451.4 248.7L451.4 242.8L451.5 237.0L451.5 231.5L451.6 226.3L451.6 221.3L451.6 216.7L451.7 212.5L451.7 208.7L451.8 205.4L451.8 202.6L451.9 200.3L451.9 198.6L451.9 200.3L452.0 202.5L452.0 205.3L452.1 208.6L452.1 212.3L452.2 216.5L452.2 221.0L452.2 225.9L452.3 231.0L452.3 236.4L452.4 242.1L452.4 247.9L452.4 253.9L452.5 259.9L452.5 266.1L452.6 272.2L452.6 278.3L452.7 284.4L452.7 290.3L452.7 296.2L452.8 301.8L452.8 307.2L452.9 312.4L452.9 317.3L452.9 321.8L453.0 325.9L453.0 329.7L453.1 333.0L453.1 335.7L453.2 338.0L453.2 339.6L453.2 338.0L453.3 335.7L453.3 332.9L453.4 329.6L453.4 325.8L453.4 321.6L453.5 317.1L453.5 312.2L453.6 307.0L453.6 301.5L453.6 295.8L453.7 289.9L453.7 283.9L453.8 277.7L453.8 271.4L453.9 265.2L453.9 258.9L453.9 252.7L454.0 246.5L454.0 240.4L454.1 234.5L454.1 228.8L454.1 223.4L454.2 218.2L454.2 213.3L454.3 208.7L454.3 204.5L454.3 200.8L454.4 197.5L454.4 194.7L454.5 192.4L454.5 190.7L454.6 192.5L454.6 195.2L454.7 198.5L454.7 202.6L454.8 207.2L454.9 212.3L454.9 217.8L455.0 223.5L455.1 229.5L455.1 235.7L455.2 241.8L455.2 248.0L455.3 254.0L455.4 259.8L455.4 265.2L455.5 270.3L455.6 274.9L455.6 279.0L455.7 282.4L455.7 285.0L455.8 286.8L455.9 285.0L455.9 282.5L456.0 279.2L456.0 275.3L456.1 270.9L456.1 265.9L456.2 260.6L456.3 255.0L456.3 249.1L456.4 243.0L456.4 236.8L456.5 230.5L456.5 224.3L456.6 218.3L456.6 212.4L456.7 206.7L456.8 201.4L456.8 196.5L456.9 192.0L456.9 188.1L457.0 184.9L457.0 182.3L457.1 180.5L457.2 182.5L457.3 185.7L457.4 189.7L457.4 194.6L457.5 200.1L457.6 205.9L457.7 212.1L457.8 218.3L457.9 224.5L458.0 230.4L458.1 235.8L458.1 240.7L458.2 244.8L458.3 247.9L458.4 249.9L458.5 247.8L458.6 244.5L458.7 240.0L458.8 234.8L458.9 229.0L459.0 222.9L459.1 216.7L459.2 210.5L459.3 204.7L459.4 199.5L459.5 195.1L459.6 191.7L459.7 189.6L459.8 191.7L459.9 195.1L460.0 199.4L460.1 204.6L460.2 210.3L460.3 216.4L460.4 222.6L460.5 228.6L460.6 234.4L460.7 239.5L460.8 243.9L460.9 247.2L461.0 249.3L461.1 247.1L461.2 243.6L461.4 239.0L461.5 233.6L461.6 227.7L461.7 221.7L461.8 215.8L461.9 210.4L462.1 205.7L462.2 202.2L462.3 200.1L462.4 202.3L462.6 206.1L462.7 211.0L462.8 216.7L463.0 222.8L463.1 228.8L463.2 234.5L463.3 239.5L463.5 243.2L463.6 245.5L463.7 243.3L463.8 239.6L464.0 234.9L464.1 229.3L464.2 223.3L464.3 217.1L464.4 211.0L464.5 205.5L464.7 200.7L464.8 197.1L464.9 194.9L465.0 197.1L465.2 201.0L465.3 206.0L465.4 211.8L465.6 217.9L465.7 224.1L465.8 229.9L465.9 234.9L466.1 238.7L466.2 241.0L466.3 239.0L466.4 235.6L466.5 231.3L466.6 226.2L466.7 220.5L466.9 214.6L467.0 208.8L467.1 203.1L467.2 198.0L467.3 193.7L467.4 190.3L467.5 188.3L467.6 190.7L467.8 194.7L467.9 199.9L468.1 205.8L468.2 211.9L468.4 217.9L468.5 223.1L468.7 227.1L468.8 229.4L468.9 227.3L469.0 223.6L469.2 218.9L469.3 213.4L469.4 207.4L469.5 201.2L469.6 195.2L469.7 189.7L469.9 184.9L470.0 181.3L470.1 179.1L470.3 181.5L470.4 185.7L470.6 191.0L470.8 196.9L470.9 202.8L471.1 208.1L471.2 212.3L471.4 214.7L471.5 212.5L471.7 208.9L471.8 204.2L471.9 198.7L472.1 192.9L472.2 187.1L472.3 181.6L472.4 176.9L472.6 173.3L472.7 171.1L472.9 173.8L473.1 178.4L473.3 184.2L473.4 190.4L473.6 196.3L473.8 200.9L474.0 203.5L474.2 201.1L474.3 196.8L474.5 191.3L474.7 185.3L474.8 179.2L475.0 173.7L475.1 169.5L475.3 167.0L475.5 169.3L475.7 173.4L475.9 178.5L476.0 183.9L476.2 189.0L476.4 193.1L476.6 195.4L476.8 192.5L477.0 187.6L477.3 181.5L477.5 175.4L477.7 170.4L477.9 167.6L478.1 170.2L478.3 174.8L478.5 180.6L478.6 186.7L478.8 192.5L479.0 197.1L479.2 199.7L479.4 197.1L479.6 192.7L479.8 187.1L479.9 181.1L480.1 175.5L480.3 171.1L480.5 168.5L480.7 170.8L480.8 174.6L481.0 179.5L481.2 185.0L481.3 190.4L481.5 195.3L481.6 199.2L481.8 201.4L482.0 198.9L482.2 194.5L482.5 189.1L482.7 183.7L482.9 179.3L483.1 176.7L483.4 179.7L483.6 185.0L483.9 191.1L484.1 196.4L484.4 199.4L484.6 196.8L484.8 192.2L485.1 186.6L485.3 181.0L485.5 176.4L485.7 173.8L485.9 176.4L486.1 181.0L486.4 186.6L486.6 192.2L486.8 196.8L487.0 199.5L487.2 197.0L487.4 192.6L487.7 187.2L487.9 181.9L488.1 177.5L488.3 175.0L488.6 177.9L488.8 183.0L489.1 188.9L489.3 194.1L489.6 197.0L489.9 194.1L490.1 189.0L490.4 183.2L490.6 178.1L490.9 175.2L491.2 177.8L491.4 182.2L491.7 187.4L491.9 191.9L492.2 194.4L492.4 192.0L492.6 187.8L492.9 182.6L493.1 177.5L493.3 173.2L493.5 170.8L493.8 173.8L494.0 179.0L494.3 184.9L494.5 190.1L494.8 193.1L495.0 190.4L495.2 185.7L495.5 179.9L495.7 174.1L495.9 169.4L496.1 166.7L496.3 169.3L496.5 173.8L496.7 179.4L496.8 185.4L497.0 191.1L497.2 195.6L497.4 198.2L497.6 195.8L497.7 191.8L497.9 186.6L498.1 180.8L498.2 175.0L498.4 169.8L498.5 165.8L498.7 163.4L498.8 165.7L499.0 169.7L499.1 174.8L499.3 180.6L499.4 186.6L499.6 192.4L499.7 197.5L499.9 201.5L500.0 203.8L500.1 201.5L500.3 197.6L500.4 192.5L500.6 186.8L500.7 180.8L500.9 175.0L501.0 169.9L501.2 166.0L501.3 163.7L501.4 166.0L501.6 169.8L501.7 174.8L501.8 180.6L502.0 186.7L502.1 192.9L502.2 198.6L502.3 203.6L502.5 207.5L502.6 209.7L502.7 207.6L502.9 203.9L503.0 199.1L503.1 193.6L503.3 187.8L503.4 181.9L503.5 176.4L503.6 171.6L503.8 168.0L503.9 165.8L504.0 167.9L504.2 171.5L504.3 176.2L504.4 181.6L504.6 187.3L504.7 193.0L504.8 198.4L504.9 203.1L505.1 206.6L505.2 208.8L505.3 206.5L505.5 202.6L505.6 197.5L505.8 191.8L505.9 185.8L506.1 180.0L506.2 175.0L506.4 171.1L506.5 168.8L506.6 171.1L506.8 175.1L506.9 180.2L507.1 186.0L507.2 192.0L507.4 197.8L507.5 203.0L507.7 206.9L507.8 209.2L507.9 207.0L508.1 203.1L508.2 198.1L508.4 192.5L508.5 186.6L508.7 180.9L508.8 175.9L509.0 172.1L509.1 169.8L509.2 172.2L509.4 176.3L509.5 181.7L509.7 187.7L509.8 194.0L510.0 200.1L510.1 205.4L510.3 209.5L510.4 211.9L510.5 209.8L510.6 206.4L510.8 201.9L510.9 196.7L511.0 191.1L511.1 185.3L511.2 179.6L511.3 174.4L511.5 169.9L511.6 166.5L511.7 164.4L511.8 166.5L511.9 169.9L512.1 174.4L512.2 179.5L512.3 185.2L512.4 191.0L512.5 196.6L512.6 201.8L512.8 206.3L512.9 209.7L513.0 211.7L513.1 209.6L513.3 206.1L513.4 201.5L513.5 196.2L513.7 190.6L513.8 184.9L513.9 179.6L514.0 175.0L514.2 171.5L514.3 169.4L514.4 171.7L514.6 175.6L514.7 180.6L514.8 186.4L515.0 192.6L515.1 198.7L515.2 204.5L515.3 209.5L515.5 213.4L515.6 215.7L515.7 213.4L515.9 209.6L516.0 204.6L516.1 198.8L516.3 192.7L516.4 186.5L516.5 180.7L516.6 175.8L516.8 171.9L516.9 169.6L517.0 171.9L517.2 175.7L517.3 180.6L517.5 186.1L517.6 192.0L517.8 197.5L517.9 202.4L518.1 206.2L518.2 208.5L518.4 206.1L518.6 201.9L518.8 196.6L518.9 191.0L519.1 185.7L519.3 181.5L519.5 179.1L519.7 181.6L519.9 185.9L520.1 191.3L520.2 197.1L520.4 202.5L520.6 206.8L520.8 209.3L521.0 206.9L521.2 202.6L521.4 197.3L521.5 191.6L521.7 186.2L521.9 182.0L522.1 179.5L522.3 182.2L522.5 186.8L522.8 192.5L523.0 198.2L523.2 202.9L523.4 205.5L523.6 203.0L523.8 198.5L524.0 192.9L524.1 186.9L524.3 181.3L524.5 176.8L524.7 174.2L524.9 176.7L525.1 181.0L525.3 186.4L525.4 192.2L525.6 197.6L525.8 201.9L526.0 204.3L526.2 201.8L526.4 197.3L526.6 191.6L526.7 185.6L526.9 180.0L527.1 175.5L527.3 172.9L527.5 175.3L527.7 179.4L527.9 184.6L528.0 190.1L528.2 195.3L528.4 199.4L528.6 201.8L528.8 199.1L529.0 194.2L529.3 188.3L529.5 182.5L529.7 177.6L529.9 174.9L530.1 177.4L530.3 181.9L530.6 187.3L530.8 192.7L531.0 197.2L531.2 199.8L531.4 197.1L531.6 192.4L531.9 186.6L532.1 180.9L532.3 176.2L532.5 173.5L532.7 176.2L532.9 180.9L533.1 186.6L533.4 192.3L533.6 196.9L533.8 199.6L534.0 196.9L534.2 192.2L534.4 186.4L534.7 180.6L534.9 175.8L535.1 173.1L535.3 175.7L535.5 180.3L535.7 185.9L536.0 191.4L536.2 196.0L536.4 198.6L536.7 195.5L536.9 190.1L537.2 183.9L537.4 178.4L537.7 175.4L537.9 177.7L538.1 181.7L538.3 186.8L538.4 192.2L538.6 197.3L538.8 201.3L539.0 203.6L539.1 201.2L539.3 197.2L539.4 192.0L539.6 186.0L539.7 179.8L539.9 173.9L540.0 168.6L540.2 164.6L540.3 162.2L540.4 164.3L540.5 167.8L540.7 172.3L540.8 177.6L540.9 183.3L541.0 189.2L541.1 194.9L541.2 200.2L541.4 204.7L541.5 208.1L541.6 210.2L541.7 208.0L541.8 204.3L542.0 199.4L542.1 193.8L542.2 187.6L542.3 181.3L542.4 175.2L542.5 169.5L542.7 164.7L542.8 160.9L542.9 158.7L543.0 160.8L543.1 164.1L543.2 168.5L543.3 173.7L543.4 179.3L543.5 185.3L543.7 191.2L543.8 196.9L543.9 202.0L544.0 206.4L544.1 209.8L544.2 211.8L544.3 209.7L544.4 206.2L544.6 201.6L544.7 196.3L544.8 190.5L544.9 184.5L545.0 178.7L545.1 173.4L545.3 168.8L545.4 165.3L545.5 163.2L545.6 165.2L545.7 168.6L545.8 173.1L545.9 178.3L546.0 184.0L546.1 190.0L546.3 196.0L546.4 201.7L546.5 206.9L546.6 211.4L546.7 214.8L546.8 216.8L546.9 214.7L547.0 211.2L547.2 206.5L547.3 201.1L547.4 195.3L547.5 189.3L547.6 183.4L547.7 178.0L547.9 173.4L548.0 169.8L548.1 167.7L548.2 169.8L548.3 173.3L548.5 177.8L548.6 183.1L548.7 188.8L548.8 194.7L548.9 200.5L549.0 205.7L549.2 210.3L549.3 213.7L549.4 215.8L549.5 213.6L549.7 209.7L549.8 204.8L549.9 199.0L550.0 192.9L550.2 186.7L550.3 181.0L550.4 176.0L550.6 172.2L550.7 169.9L550.8 172.1L550.9 175.6L551.1 180.3L551.2 185.7L551.3 191.6L551.4 197.6L551.5 203.5L551.6 209.0L551.8 213.6L551.9 217.2L552.0 219.3L552.1 217.1L552.2 213.4L552.4 208.6L552.5 203.0L552.6 196.9L552.7 190.6L552.8 184.5L552.9 178.9L553.1 174.1L553.2 170.4L553.3 168.2L553.4 170.3L553.5 173.6L553.6 178.0L553.7 183.2L553.8 188.9L553.9 194.9L554.1 200.8L554.2 206.5L554.3 211.7L554.4 216.1L554.5 219.5L554.6 221.6L554.7 219.4L554.8 215.7L555.0 211.0L555.1 205.5L555.2 199.5L555.3 193.3L555.4 187.3L555.5 181.8L555.7 177.0L555.8 173.4L555.9 171.2L556.4 174.1L556.9 179.1L557.5 184.4L558.0 188.3L559.2 191.3L560.5 193.6L561.8 195.5L563.0 197.7L564.4 200.3L565.8 202.9L567.2 205.5L568.6 208.1L570.0 210.9L571.2 213.7L572.5 216.6L573.8 219.6L575.0 222.7L576.2 225.8L577.5 229.1L578.8 232.5L580.0 235.9L581.2 239.8L582.5 243.9L583.8 248.1L585.0 252.3L586.2 256.7L587.5 261.1L588.8 265.6L590.0 270.3L591.0 274.5L592.0 278.7L593.0 283.1L594.0 287.5L594.9 291.9L595.8 296.7L596.6 300.7L597.5 303.1L597.7 300.4L597.8 295.6L598.0 290.9L598.2 288.1L598.4 290.3L598.6 294.0L598.8 298.8L599.0 304.4L599.2 310.3L599.4 316.3L599.6 321.8L599.8 326.7L600.0 330.4L600.2 332.6L600.4 330.3L600.7 326.3L600.9 321.2L601.2 315.5L601.5 309.8L601.7 304.7L602.0 300.7L602.2 298.4L602.4 300.6L602.6 304.2L602.8 308.9L603.0 314.5L603.1 320.4L603.3 326.6L603.5 332.6L603.7 338.1L603.9 342.8L604.1 346.4L604.2 348.6L604.5 346.1L604.8 341.8L605.0 336.3L605.3 330.2L605.5 324.0L605.8 318.5L606.0 314.2L606.3 311.7L606.5 313.7L606.6 316.8L606.8 321.0L606.9 325.9L607.1 331.3L607.2 337.1L607.4 343.0L607.6 348.8L607.7 354.2L607.9 359.2L608.0 363.3L608.2 366.5L608.4 368.5L608.5 366.4L608.7 363.0L608.9 358.5L609.1 353.3L609.3 347.7L609.5 341.9L609.7 336.3L609.9 331.1L610.1 326.6L610.2 323.2L610.4 321.1L610.6 323.1L610.7 326.0L610.9 329.9L611.0 334.5L611.1 339.7L611.3 345.3L611.4 351.2L611.5 357.1L611.7 363.0L611.8 368.6L612.0 373.8L612.1 378.4L612.2 382.3L612.4 385.3L612.5 387.2L612.7 385.0L612.9 381.4L613.1 376.8L613.3 371.3L613.5 365.4L613.7 359.3L613.9 353.4L614.0 347.9L614.2 343.2L614.4 339.6L614.6 337.5L614.8 339.5L614.9 342.7L615.1 346.9L615.2 351.9L615.4 357.5L615.5 363.5L615.7 369.7L615.8 375.9L616.0 381.9L616.1 387.5L616.3 392.4L616.4 396.7L616.6 399.9L616.7 401.9L616.9 399.8L617.1 396.3L617.3 391.8L617.4 386.4L617.6 380.5L617.8 374.4L618.0 368.2L618.1 362.3L618.3 357.0L618.5 352.4L618.7 348.9L618.9 346.8L619.0 348.8L619.1 352.0L619.3 356.1L619.4 361.0L619.6 366.6L619.7 372.5L619.9 378.8L620.0 385.1L620.1 391.3L620.3 397.3L620.4 402.8L620.6 407.7L620.7 411.8L620.8 415.0L621.0 417.0L621.2 415.0L621.3 411.8L621.5 407.5L621.7 402.5L621.8 396.9L622.0 391.0L622.1 385.0L622.3 379.1L622.5 373.6L622.6 368.6L622.8 364.3L623.0 361.1L623.1 359.1L623.3 361.0L623.4 363.8L623.5 367.5L623.6 372.0L623.8 377.0L623.9 382.5L624.0 388.3L624.2 394.3L624.3 400.4L624.4 406.4L624.5 412.3L624.7 417.7L624.8 422.8L624.9 427.2L625.0 430.9L625.2 433.8L625.3 435.7L625.4 433.8L625.6 430.8L625.7 426.9L625.9 422.3L626.0 417.1L626.2 411.5L626.3 405.6L626.5 399.7L626.6 393.8L626.8 388.2L626.9 383.0L627.0 378.4L627.2 374.5L627.3 371.5L627.5 369.6L627.6 371.4L627.7 374.2L627.8 377.8L628.0 382.1L628.1 386.9L628.2 392.3L628.3 397.9L628.5 403.8L628.6 409.8L628.7 415.9L628.8 421.8L628.9 427.4L629.1 432.8L629.2 437.6L629.3 441.9L629.4 445.5L629.5 448.3L629.7 450.1L629.8 448.0L630.0 444.6L630.2 440.1L630.3 434.9L630.5 429.1L630.7 422.9L630.9 416.6L631.0 410.4L631.2 404.6L631.4 399.3L631.5 394.9L631.7 391.5L631.9 389.3L632.0 391.3L632.2 394.4L632.3 398.4L632.5 403.1L632.6 408.5L632.8 414.3L632.9 420.3L633.1 426.4L633.2 432.5L633.3 438.2L633.5 443.6L633.6 448.4L633.8 452.4L633.9 455.4L634.1 457.4L634.2 455.5L634.4 452.4L634.6 448.4L634.7 443.6L634.9 438.3L635.0 432.6L635.2 426.8L635.4 420.9L635.5 415.2L635.7 409.9L635.8 405.1L636.0 401.1L636.2 398.1L636.3 396.1L636.4 398.0L636.6 400.8L636.7 404.4L636.8 408.8L636.9 413.7L637.1 419.1L637.2 424.8L637.3 430.8L637.4 436.8L637.6 442.9L637.7 448.9L637.8 454.6L637.9 460.0L638.1 464.9L638.2 469.2L638.3 472.9L638.4 475.7L638.6 477.5L638.7 475.6L638.8 472.6L639.0 468.7L639.1 464.1L639.3 458.9L639.4 453.2L639.5 447.2L639.7 441.1L639.8 435.0L640.0 429.0L640.1 423.3L640.3 418.1L640.4 413.5L640.5 409.6L640.7 406.6L640.8 404.7L640.9 406.5L641.1 409.2L641.2 412.7L641.3 416.9L641.4 421.7L641.6 426.9L641.7 432.5L641.8 438.4L641.9 444.4L642.0 450.5L642.2 456.5L642.3 462.4L642.4 468.0L642.5 473.2L642.7 478.0L642.8 482.2L642.9 485.7L643.0 488.4L643.2 490.2L643.3 488.4L643.4 485.7L643.5 482.2L643.7 478.0L643.8 473.3L643.9 468.1L644.0 462.5L644.2 456.6L644.3 450.6L644.4 444.6L644.5 438.6L644.7 432.7L644.8 427.1L644.9 421.9L645.0 417.2L645.2 413.0L645.3 409.5L645.4 406.8L645.5 404.9L645.7 406.8L645.8 409.5L645.9 412.9L646.0 417.0L646.2 421.7L646.3 426.9L646.4 432.5L646.5 438.3L646.6 444.4L646.8 450.5L646.9 456.6L647.0 462.7L647.1 468.5L647.3 474.1L647.4 479.3L647.5 484.0L647.6 488.1L647.7 491.6L647.9 494.2L648.0 496.1L648.1 494.2L648.2 491.5L648.4 488.0L648.5 483.9L648.6 479.2L648.7 474.0L648.9 468.4L649.0 462.5L649.1 456.4L649.2 450.2L649.4 444.1L649.5 438.0L649.6 432.1L649.7 426.5L649.9 421.3L650.0 416.6L650.1 412.4L650.3 408.9L650.4 406.2L650.5 404.4L650.6 406.1L650.7 408.6L650.8 411.7L650.9 415.4L651.0 419.7L651.1 424.4L651.3 429.5L651.4 434.9L651.5 440.6L651.6 446.5L651.7 452.6L651.8 458.7L651.9 464.7L652.0 470.8L652.1 476.7L652.2 482.4L652.3 487.8L652.4 492.9L652.5 497.6L652.7 501.9L652.8 505.6L652.9 508.7L653.0 511.2L653.1 512.9L653.2 511.1L653.3 508.3L653.5 504.8L653.6 500.7L653.7 495.9L653.9 490.7L654.0 485.0L654.1 479.1L654.3 473.0L654.4 466.8L654.5 460.6L654.7 454.4L654.8 448.5L654.9 442.9L655.1 437.6L655.2 432.9L655.3 428.7L655.5 425.2L655.6 422.5L655.7 420.6L655.8 422.4L656.0 425.0L656.1 428.3L656.2 432.1L656.3 436.6L656.4 441.5L656.5 446.8L656.7 452.5L656.8 458.4L656.9 464.5L657.0 470.7L657.1 477.0L657.3 483.2L657.4 489.3L657.5 495.2L657.6 500.9L657.7 506.2L657.8 511.1L658.0 515.6L658.1 519.5L658.2 522.7L658.3 525.3L658.4 527.1L658.5 525.3L658.7 522.9L658.8 519.8L658.9 516.1L659.0 511.9L659.1 507.3L659.2 502.2L659.3 496.8L659.4 491.2L659.5 485.3L659.7 479.3L659.8 473.1L659.9 467.0L660.0 460.8L660.1 454.8L660.2 448.9L660.3 443.3L660.4 437.9L660.5 432.8L660.7 428.2L660.8 424.0L660.9 420.3L661.0 417.2L661.1 414.7L661.2 413.0L661.3 414.7L661.4 417.1L661.5 420.0L661.6 423.6L661.7 427.6L661.8 432.0L662.0 436.9L662.1 442.1L662.2 447.6L662.3 453.3L662.4 459.2L662.5 465.2L662.6 471.4L662.7 477.5L662.8 483.6L662.9 489.6L663.0 495.5L663.1 501.3L663.2 506.8L663.3 512.0L663.4 516.8L663.5 521.3L663.6 525.3L663.7 528.8L663.9 531.8L664.0 534.1L664.1 535.8L664.2 534.1L664.3 531.8L664.4 528.7L664.5 525.2L664.6 521.1L664.7 516.6L664.9 511.7L665.0 506.4L665.1 500.9L665.2 495.1L665.3 489.2L665.4 483.2L665.5 477.1L665.6 471.0L665.8 465.0L665.9 459.0L666.0 453.3L666.1 447.8L666.2 442.5L666.3 437.6L666.4 433.1L666.5 429.0L666.7 425.4L666.8 422.4L666.9 420.1L667.0 418.3L667.1 420.1L667.2 422.4L667.3 425.4L667.4 428.9L667.5 433.0L667.7 437.4L667.8 442.3L667.9 447.5L668.0 453.0L668.1 458.7L668.2 464.7L668.3 470.7L668.4 476.8L668.5 483.0L668.7 489.1L668.8 495.2L668.9 501.1L669.0 506.8L669.1 512.3L669.2 517.5L669.3 522.4L669.4 526.9L669.5 530.9L669.7 534.4L669.8 537.4L669.9 539.8L670.0 541.5L670.1 539.8L670.2 537.4L670.3 534.5L670.4 531.1L670.6 527.1L670.7 522.7L670.8 518.0L670.9 512.9L671.0 507.4L671.1 501.8L671.2 496.0L671.3 490.0L671.5 483.9L671.6 477.7L671.7 471.6L671.8 465.5L671.9 459.5L672.0 453.7L672.1 448.0L672.2 442.6L672.4 437.5L672.5 432.7L672.6 428.3L672.7 424.4L672.8 420.9L672.9 418.0L673.0 415.7L673.1 414.0L673.3 415.7L673.4 418.1L673.5 421.0L673.6 424.5L673.7 428.5L673.9 433.0L674.0 437.8L674.1 443.0L674.2 448.5L674.3 454.2L674.5 460.1L674.6 466.2L674.7 472.3L674.8 478.5L674.9 484.8L675.0 490.9L675.2 497.0L675.3 502.9L675.4 508.6L675.5 514.1L675.6 519.3L675.8 524.1L675.9 528.6L676.0 532.6L676.1 536.1L676.2 539.0L676.4 541.4L676.5 543.1L676.6 541.4L676.7 539.2L676.8 536.4L676.9 533.1L677.0 529.4L677.1 525.2L677.2 520.7L677.3 515.9L677.5 510.7L677.6 505.3L677.7 499.6L677.8 493.8L677.9 487.8L678.0 481.7L678.1 475.5L678.2 469.3L678.3 463.0L678.4 456.9L678.5 450.8L678.7 444.8L678.8 438.9L678.9 433.3L679.0 427.8L679.1 422.7L679.2 417.8L679.3 413.3L679.4 409.1L679.5 405.4L679.6 402.2L679.8 399.4L679.9 397.1L680.0 395.4L680.1 397.1L680.2 399.4L680.3 402.2L680.4 405.5L680.5 409.3L680.7 413.5L680.8 418.1L680.9 423.0L681.0 428.2L681.1 433.7L681.2 439.4L681.4 445.3L681.5 451.4L681.6 457.6L681.7 463.8L681.8 470.1L681.9 476.4L682.0 482.6L682.2 488.8L682.3 494.9L682.4 500.8L682.5 506.5L682.6 512.0L682.7 517.2L682.8 522.1L683.0 526.7L683.1 530.9L683.2 534.7L683.3 538.0L683.4 540.8L683.5 543.0L683.7 544.7L683.8 543.1L683.9 540.8L684.0 538.0L684.1 534.7L684.3 531.0L684.4 526.8L684.5 522.3L684.6 517.4L684.7 512.2L684.9 506.8L685.0 501.1L685.1 495.3L685.2 489.2L685.3 483.1L685.5 476.9L685.6 470.7L685.7 464.4L685.8 458.2L686.0 452.1L686.1 446.1L686.2 440.2L686.3 434.5L686.4 429.1L686.6 423.9L686.7 419.0L686.8 414.5L686.9 410.3L687.0 406.6L687.2 403.3L687.3 400.5L687.4 398.3L687.5 396.6L687.7 398.2L687.8 400.5L687.9 403.2L688.0 406.5L688.1 410.1L688.3 414.2L688.4 418.7L688.5 423.5L688.6 428.6L688.8 434.0L688.9 439.6L689.0 445.4L689.1 451.3L689.3 457.4L689.4 463.6L689.5 469.8L689.6 476.1L689.8 482.3L689.9 488.5L690.0 494.6L690.1 500.5L690.2 506.3L690.4 511.9L690.5 517.3L690.6 522.4L690.7 527.2L690.9 531.7L691.0 535.8L691.1 539.4L691.2 542.7L691.4 545.4L691.5 547.7L691.6 549.3L691.7 547.7L691.9 545.5L692.0 542.7L692.1 539.5L692.3 535.9L692.4 531.8L692.5 527.4L692.7 522.6L692.8 517.6L692.9 512.2L693.0 506.7L693.2 500.9L693.3 495.0L693.4 489.0L693.6 482.8L693.7 476.6L693.8 470.4L694.0 464.3L694.1 458.1L694.2 452.1L694.3 446.2L694.5 440.4L694.6 434.9L694.7 429.5L694.9 424.5L695.0 419.7L695.1 415.3L695.3 411.2L695.4 407.6L695.5 404.4L695.6 401.6L695.8 399.4L695.9 397.8L696.1 399.4L696.2 401.7L696.3 404.5L696.5 407.8L696.6 411.6L696.8 415.8L696.9 420.3L697.1 425.3L697.2 430.5L697.4 435.9L697.5 441.6L697.7 447.5L697.8 453.5L698.0 459.6L698.1 465.8L698.2 472.0L698.4 478.2L698.5 484.3L698.7 490.3L698.8 496.2L699.0 501.9L699.1 507.3L699.3 512.5L699.4 517.5L699.6 522.0L699.7 526.2L699.9 530.0L700.0 533.3L700.1 536.1L700.3 538.4L700.4 540.0L700.6 538.4L700.7 536.2L700.9 533.5L701.0 530.4L701.1 526.9L701.3 522.9L701.4 518.6L701.5 514.0L701.7 509.0L701.8 503.8L702.0 498.4L702.1 492.7L702.2 486.9L702.4 480.9L702.5 474.8L702.6 468.6L702.8 462.3L702.9 456.0L703.1 449.7L703.2 443.4L703.3 437.2L703.5 431.1L703.6 425.1L703.7 419.3L703.9 413.6L704.0 408.1L704.2 402.9L704.3 398.0L704.4 393.4L704.6 389.1L704.7 385.1L704.8 381.6L705.0 378.5L705.1 375.8L705.3 373.6L705.4 371.9L705.5 373.6L705.7 375.7L705.8 378.2L705.9 381.2L706.1 384.6L706.2 388.3L706.4 392.4L706.5 396.8L706.6 401.5L706.8 406.4L706.9 411.6L707.1 417.0L707.2 422.6L707.3 428.4L707.5 434.3L707.6 440.4L707.8 446.5L707.9 452.7L708.0 458.9L708.2 465.1L708.3 471.3L708.4 477.5L708.6 483.7L708.7 489.7L708.9 495.6L709.0 501.4L709.1 507.0L709.3 512.4L709.4 517.6L709.6 522.6L709.7 527.2L709.8 531.6L710.0 535.7L710.1 539.5L710.2 542.8L710.4 545.8L710.5 548.3L710.7 550.4L710.8 552.1L710.9 550.5L711.1 548.5L711.2 546.1L711.3 543.4L711.4 540.3L711.6 536.9L711.7 533.2L711.8 529.2L711.9 525.0L712.1 520.4L712.2 515.7L712.3 510.7L712.4 505.5L712.6 500.1L712.7 494.6L712.8 488.9L712.9 483.1L713.1 477.2L713.2 471.1L713.3 465.0L713.4 458.8L713.6 452.6L713.7 446.4L713.8 440.1L713.9 433.9L714.1 427.7L714.2 421.5L714.3 415.4L714.4 409.4L714.6 403.4L714.7 397.6L714.8 391.9L714.9 386.4L715.1 381.0L715.2 375.8L715.3 370.9L715.4 366.1L715.6 361.6L715.7 357.3L715.8 353.3L715.9 349.6L716.1 346.2L716.2 343.1L716.3 340.4L716.4 338.0L716.6 336.0L716.7 334.4L716.8 336.1L717.0 338.1L717.1 340.6L717.2 343.5L717.4 346.8L717.5 350.4L717.6 354.3L717.8 358.5L717.9 363.0L718.0 367.8L718.2 372.9L718.3 378.1L718.5 383.6L718.6 389.2L718.7 395.0L718.9 401.0L719.0 407.0L719.1 413.2L719.3 419.4L719.4 425.7L719.5 432.0L719.7 438.3L719.8 444.6L719.9 450.9L720.1 457.1L720.2 463.3L720.3 469.3L720.5 475.3L720.6 481.1L720.7 486.7L720.9 492.2L721.0 497.4L721.2 502.5L721.3 507.3L721.4 511.8L721.6 516.0L721.7 520.0L721.8 523.6L722.0 526.8L722.1 529.7L722.2 532.2L722.4 534.2L722.5 535.9L722.6 534.3L722.8 532.2L722.9 529.8L723.1 527.1L723.2 524.0L723.3 520.5L723.5 516.8L723.6 512.7L723.7 508.4L723.9 503.8L724.0 499.0L724.2 494.0L724.3 488.7L724.4 483.3L724.6 477.7L724.7 472.0L724.9 466.1L725.0 460.1L725.1 454.0L725.3 447.8L725.4 441.5L725.5 435.3L725.7 428.9L725.8 422.6L726.0 416.3L726.1 410.0L726.2 403.8L726.4 397.6L726.5 391.5L726.6 385.5L726.8 379.6L726.9 373.9L727.1 368.3L727.2 362.8L727.3 357.6L727.5 352.5L727.6 347.7L727.8 343.1L727.9 338.8L728.0 334.8L728.2 331.0L728.3 327.6L728.4 324.5L728.6 321.7L728.7 319.3L728.9 317.3L729.0 315.7L729.1 317.3L729.2 319.3L729.4 321.7L729.5 324.4L729.6 327.5L729.7 330.9L729.8 334.6L729.9 338.6L730.1 342.8L730.2 347.4L730.3 352.1L730.4 357.1L730.5 362.3L730.6 367.7L730.8 373.2L730.9 378.9L731.0 384.7L731.1 390.7L731.2 396.7L731.3 402.8L731.5 409.0L731.6 415.2L731.7 421.5L731.8 427.7L731.9 434.0L732.0 440.2L732.2 446.4L732.3 452.5L732.4 458.5L732.5 464.5L732.6 470.3L732.7 476.0L732.9 481.5L733.0 486.9L733.1 492.1L733.2 497.1L733.3 501.8L733.4 506.4L733.6 510.6L733.7 514.6L733.8 518.4L733.9 521.8L734.0 524.8L734.1 527.6L734.3 529.9L734.4 531.9L734.5 533.5L734.6 532.0L734.7 530.1L734.8 527.8L734.9 525.3L735.1 522.4L735.2 519.2L735.3 515.8L735.4 512.1L735.5 508.2L735.6 504.0L735.7 499.5L735.8 494.9L735.9 490.1L736.1 485.1L736.2 479.9L736.3 474.5L736.4 469.0L736.5 463.4L736.6 457.7L736.7 451.8L736.8 445.9L736.9 439.8L737.1 433.7L737.2 427.6L737.3 421.4L737.4 415.2L737.5 409.0L737.6 402.8L737.7 396.5L737.8 390.4L737.9 384.2L738.1 378.1L738.2 372.1L738.3 366.2L738.4 360.3L738.5 354.6L738.6 348.9L738.7 343.4L738.8 338.1L738.9 332.9L739.1 327.9L739.2 323.1L739.3 318.4L739.4 314.0L739.5 309.8L739.6 305.9L739.7 302.2L739.8 298.7L739.9 295.6L740.1 292.7L740.2 290.2L740.3 287.9L740.4 286.0L740.5 284.4L740.6 286.0L740.7 288.0L740.8 290.4L740.9 293.1L741.0 296.2L741.1 299.5L741.2 303.2L741.2 307.2L741.3 311.4L741.4 315.9L741.5 320.7L741.6 325.6L741.7 330.8L741.8 336.1L741.9 341.6L742.0 347.3L742.1 353.1L742.2 359.0L742.3 365.0L742.4 371.2L742.5 377.3L742.6 383.6L742.7 389.8L742.8 396.1L742.8 402.4L742.9 408.6L743.0 414.9L743.1 421.0L743.2 427.1L743.3 433.2L743.4 439.1L743.5 444.9L743.6 450.6L743.7 456.1L743.8 461.4L743.9 466.6L744.0 471.5L744.1 476.3L744.2 480.8L744.2 485.0L744.3 489.0L744.4 492.6L744.5 496.0L744.6 499.1L744.7 501.8L744.8 504.2L744.9 506.1L745.0 507.7L745.1 506.2L745.2 504.2L745.3 502.0L745.4 499.4L745.5 496.6L745.6 493.4L745.7 490.0L745.8 486.3L745.9 482.4L746.0 478.2L746.1 473.8L746.2 469.2L746.3 464.4L746.4 459.4L746.5 454.2L746.6 448.8L746.7 443.3L746.8 437.7L746.9 432.0L747.0 426.1L747.1 420.1L747.2 414.1L747.3 407.9L747.4 401.7L747.5 395.5L747.6 389.2L747.7 382.9L747.8 376.6L747.8 370.2L747.9 363.9L748.0 357.6L748.1 351.4L748.2 345.2L748.3 339.1L748.4 333.0L748.5 327.0L748.6 321.2L748.7 315.4L748.8 309.8L748.9 304.3L749.0 298.9L749.1 293.8L749.2 288.8L749.3 283.9L749.4 279.3L749.5 274.9L749.6 270.7L749.7 266.8L749.8 263.1L749.9 259.7L750.0 256.5L750.1 253.7L750.2 251.1L750.3 248.9L750.4 247.0L750.5 245.4L750.6 247.0L750.8 248.9L750.9 251.1L751.0 253.7L751.2 256.6L751.3 259.8L751.4 263.2L751.6 267.0L751.7 271.0L751.8 275.2L752.0 279.7L752.1 284.3L752.2 289.2L752.3 294.3L752.5 299.5L752.6 304.9L752.7 310.4L752.9 316.1L753.0 321.9L753.1 327.7L753.3 333.7L753.4 339.8L753.5 345.9L753.7 352.1L753.8 358.2L753.9 364.5L754.1 370.7L754.2 376.9L754.3 383.1L754.5 389.3L754.6 395.4L754.7 401.4L754.9 407.4L755.0 413.3L755.1 419.1L755.3 424.7L755.4 430.3L755.5 435.7L755.7 440.9L755.8 446.0L755.9 450.8L756.0 455.5L756.2 460.0L756.3 464.2L756.4 468.2L756.6 471.9L756.7 475.4L756.8 478.6L757.0 481.5L757.1 484.0L757.2 486.3L757.4 488.2L757.5 489.8L757.6 488.2L757.7 486.3L757.8 484.1L757.9 481.6L758.0 478.7L758.1 475.7L758.2 472.3L758.3 468.7L758.4 464.8L758.4 460.7L758.5 456.4L758.6 451.8L758.7 447.1L758.8 442.2L758.9 437.1L759.0 431.8L759.1 426.4L759.2 420.9L759.3 415.2L759.4 409.4L759.5 403.5L759.6 397.5L759.7 391.4L759.8 385.3L759.9 379.1L760.0 372.8L760.1 366.5L760.2 360.2L760.2 353.9L760.3 347.6L760.4 341.3L760.5 335.0L760.6 328.7L760.7 322.5L760.8 316.4L760.9 310.3L761.0 304.3L761.1 298.4L761.2 292.6L761.3 286.9L761.4 281.4L761.5 276.0L761.6 270.7L761.7 265.6L761.8 260.7L761.9 256.0L762.0 251.4L762.1 247.1L762.1 243.0L762.2 239.1L762.3 235.5L762.4 232.2L762.5 229.1L762.6 226.3L762.7 223.7L762.8 221.5L762.9 219.6L763.0 218.0L763.1 219.6L763.2 221.5L763.3 223.8L763.5 226.4L763.6 229.4L763.7 232.6L763.8 236.1L763.9 239.9L764.0 243.9L764.2 248.2L764.3 252.7L764.4 257.4L764.5 262.4L764.6 267.5L764.7 272.8L764.8 278.2L765.0 283.8L765.1 289.6L765.2 295.4L765.3 301.3L765.4 307.4L765.5 313.5L765.7 319.6L765.8 325.8L765.9 332.0L766.0 338.3L766.1 344.5L766.2 350.7L766.3 356.9L766.5 363.1L766.6 369.2L766.7 375.2L766.8 381.2L766.9 387.0L767.0 392.7L767.2 398.3L767.3 403.8L767.4 409.1L767.5 414.2L767.6 419.1L767.7 423.8L767.8 428.4L768.0 432.7L768.1 436.7L768.2 440.5L768.3 444.0L768.4 447.2L768.5 450.1L768.7 452.7L768.8 455.0L768.9 456.9L769.0 458.5L769.1 457.0L769.3 455.1L769.4 452.9L769.5 450.4L769.7 447.6L769.8 444.5L769.9 441.1L770.1 437.5L770.2 433.7L770.3 429.6L770.5 425.3L770.6 420.8L770.7 416.1L770.9 411.2L771.0 406.2L771.1 400.9L771.3 395.5L771.4 390.0L771.5 384.4L771.7 378.6L771.8 372.8L771.9 366.8L772.1 360.7L772.2 354.6L772.3 348.5L772.5 342.2L772.6 336.0L772.7 329.7L772.9 323.4L773.0 317.2L773.1 310.9L773.2 304.6L773.4 298.4L773.5 292.2L773.6 286.1L773.8 280.1L773.9 274.1L774.0 268.3L774.2 262.5L774.3 256.8L774.4 251.3L774.6 245.9L774.7 240.7L774.8 235.7L775.0 230.8L775.1 226.1L775.2 221.6L775.4 217.3L775.5 213.2L775.6 209.3L775.8 205.7L775.9 202.4L776.0 199.3L776.2 196.5L776.3 194.0L776.4 191.8L776.6 189.9L776.7 188.4L776.8 189.9L776.9 191.9L777.0 194.2L777.2 196.8L777.3 199.8L777.4 203.1L777.5 206.7L777.6 210.5L777.7 214.6L777.8 219.0L778.0 223.6L778.1 228.4L778.2 233.4L778.3 238.6L778.4 244.0L778.5 249.5L778.6 255.2L778.7 261.0L778.9 266.9L779.0 272.9L779.1 279.0L779.2 285.1L779.3 291.4L779.4 297.6L779.5 303.9L779.7 310.2L779.8 316.4L779.9 322.7L780.0 328.9L780.1 335.1L780.2 341.2L780.3 347.2L780.5 353.1L780.6 358.9L780.7 364.6L780.8 370.1L780.9 375.5L781.0 380.7L781.1 385.7L781.2 390.5L781.4 395.1L781.5 399.4L781.6 403.6L781.7 407.4L781.8 411.0L781.9 414.2L782.0 417.2L782.2 419.9L782.3 422.2L782.4 424.1L782.5 425.7L782.6 424.1L782.8 422.2L782.9 420.0L783.0 417.5L783.2 414.6L783.3 411.5L783.4 408.1L783.6 404.5L783.7 400.6L783.8 396.4L784.0 392.1L784.1 387.5L784.2 382.7L784.4 377.8L784.5 372.6L784.6 367.3L784.8 361.9L784.9 356.3L785.0 350.6L785.2 344.8L785.3 338.9L785.4 332.9L785.6 326.8L785.7 320.6L785.8 314.5L786.0 308.2L786.1 302.0L786.2 295.7L786.4 289.4L786.5 283.2L786.7 277.0L786.8 270.8L786.9 264.6L787.1 258.5L787.2 252.5L787.3 246.6L787.5 240.8L787.6 235.1L787.7 229.5L787.9 224.1L788.0 218.8L788.1 213.6L788.3 208.7L788.4 203.9L788.5 199.3L788.7 195.0L788.8 190.8L788.9 186.9L789.1 183.3L789.2 179.9L789.3 176.8L789.5 173.9L789.6 171.4L789.7 169.2L789.9 167.3L790.0 165.7L790.1 167.3L790.2 169.2L790.4 171.5L790.5 174.2L790.6 177.2L790.7 180.5L790.9 184.1L791.0 188.0L791.1 192.2L791.2 196.6L791.3 201.2L791.5 206.1L791.6 211.1L791.7 216.4L791.8 221.8L792.0 227.3L792.1 233.0L792.2 238.8L792.3 244.8L792.4 250.8L792.6 256.9L792.7 263.0L792.8 269.2L792.9 275.4L793.1 281.6L793.2 287.8L793.3 294.0L793.4 300.2L793.6 306.2L793.7 312.3L793.8 318.2L793.9 324.0L794.0 329.7L794.2 335.3L794.3 340.7L794.4 345.9L794.5 351.0L794.7 355.8L794.8 360.5L794.9 364.9L795.0 369.0L795.1 372.9L795.3 376.5L795.4 379.8L795.5 382.8L795.6 385.5L795.8 387.8L795.9 389.8L796.0 391.3L796.2 389.8L796.3 387.8L796.5 385.6L796.6 383.0L796.8 380.1L796.9 376.9L797.1 373.4L797.2 369.7L797.4 365.7L797.5 361.4L797.7 357.0L797.8 352.3L798.0 347.4L798.1 342.3L798.3 337.1L798.4 331.7L798.6 326.1L798.7 320.4L798.9 314.6L799.0 308.7L799.2 302.7L799.3 296.6L799.5 290.5L799.6 284.3L799.8 278.1L799.9 271.9L800.1 265.6L800.2 259.4L800.4 253.2L800.5 247.0L800.7 240.9L800.8 234.8L801.0 228.8L801.1 222.9L801.3 217.1L801.4 211.4L801.6 205.8L801.7 200.4L801.9 195.2L802.0 190.1L802.2 185.2L802.3 180.5L802.5 176.1L802.6 171.8L802.8 167.8L802.9 164.1L803.1 160.6L803.2 157.4L803.4 154.5L803.5 151.9L803.7 149.7L803.8 147.7L804.0 146.2L804.2 147.8L804.3 149.8L804.5 152.2L804.6 155.0L804.8 158.2L804.9 161.7L805.1 165.5L805.2 169.6L805.4 174.0L805.6 178.6L805.7 183.5L805.9 188.6L806.0 193.9L806.2 199.4L806.3 205.1L806.5 210.9L806.6 216.8L806.8 222.8L807.0 229.0L807.1 235.1L807.3 241.4L807.4 247.6L807.6 253.9L807.7 260.2L807.9 266.4L808.0 272.6L808.2 278.7L808.4 284.8L808.5 290.7L808.7 296.5L808.8 302.2L809.0 307.7L809.1 313.0L809.3 318.1L809.4 323.0L809.6 327.6L809.8 332.0L809.9 336.1L810.1 339.9L810.2 343.4L810.4 346.5L810.5 349.3L810.7 351.8L810.8 353.8L811.0 355.4L811.2 353.8L811.4 351.8L811.6 349.4L811.8 346.6L812.0 343.5L812.1 340.1L812.3 336.4L812.5 332.4L812.7 328.1L812.9 323.5L813.1 318.7L813.3 313.7L813.5 308.4L813.7 303.0L813.9 297.4L814.1 291.7L814.3 285.8L814.4 279.9L814.6 273.8L814.8 267.6L815.0 261.4L815.2 255.1L815.4 248.9L815.6 242.6L815.8 236.3L816.0 230.0L816.2 223.8L816.4 217.6L816.6 211.5L816.7 205.6L816.9 199.7L817.1 194.0L817.3 188.4L817.5 183.0L817.7 177.7L817.9 172.7L818.1 167.9L818.3 163.4L818.5 159.0L818.7 155.0L818.9 151.3L819.0 147.9L819.2 144.8L819.4 142.0L819.6 139.6L819.8 137.6L820.0 136.0L820.2 137.7L820.4 139.8L820.6 142.4L820.8 145.4L821.1 148.8L821.3 152.6L821.5 156.8L821.7 161.3L821.9 166.0L822.1 171.1L822.3 176.4L822.5 181.9L822.7 187.6L822.9 193.4L823.2 199.4L823.4 205.5L823.6 211.7L823.8 218.0L824.0 224.2L824.2 230.5L824.4 236.7L824.6 242.9L824.8 249.0L825.1 255.0L825.3 260.9L825.5 266.5L825.7 272.1L825.9 277.3L826.1 282.4L826.3 287.2L826.5 291.6L826.7 295.8L826.9 299.6L827.2 303.0L827.4 306.1L827.6 308.6L827.8 310.8L828.0 312.4L828.2 310.8L828.4 308.7L828.6 306.3L828.8 303.4L829.1 300.1L829.3 296.5L829.5 292.5L829.7 288.2L829.9 283.7L830.1 278.8L830.3 273.8L830.5 268.5L830.8 263.0L831.0 257.3L831.2 251.5L831.4 245.6L831.6 239.6L831.8 233.5L832.0 227.3L832.2 221.1L832.5 214.9L832.7 208.7L832.9 202.5L833.1 196.4L833.3 190.3L833.5 184.4L833.7 178.6L833.9 172.9L834.2 167.5L834.4 162.2L834.6 157.1L834.8 152.3L835.0 147.7L835.2 143.4L835.4 139.5L835.6 135.8L835.9 132.6L836.1 129.7L836.3 127.2L836.5 125.1L836.7 123.5L837.0 125.2L837.2 127.5L837.5 130.2L837.7 133.5L838.0 137.2L838.2 141.4L838.5 145.9L838.7 150.7L839.0 155.9L839.2 161.3L839.5 167.0L839.7 172.9L840.0 178.9L840.2 185.1L840.5 191.3L840.7 197.6L841.0 203.9L841.2 210.2L841.5 216.5L841.7 222.7L842.0 228.7L842.2 234.6L842.5 240.2L842.7 245.7L843.0 250.8L843.2 255.7L843.5 260.2L843.7 264.3L844.0 268.0L844.2 271.3L844.5 274.1L844.7 276.4L845.0 278.1L845.2 276.4L845.5 274.1L845.7 271.3L846.0 268.0L846.2 264.3L846.5 260.2L846.7 255.7L846.9 250.8L847.2 245.7L847.4 240.2L847.7 234.6L847.9 228.7L848.2 222.7L848.4 216.5L848.6 210.2L848.9 203.9L849.1 197.6L849.4 191.3L849.6 185.1L849.8 178.9L850.1 172.9L850.3 167.0L850.6 161.3L850.8 155.9L851.1 150.7L851.3 145.9L851.5 141.4L851.8 137.2L852.0 133.5L852.3 130.2L852.5 127.5L852.8 125.2L853.0 123.5L853.4 125.3L853.7 127.8L854.1 130.9L854.5 134.6L854.8 138.8L855.2 143.5L855.6 148.5L855.9 154.0L856.3 159.7L856.7 165.7L857.0 171.8L857.4 178.1L857.8 184.4L858.1 190.7L858.5 196.9L858.8 203.1L859.2 209.0L859.6 214.8L859.9 220.2L860.3 225.3L860.7 230.0L861.0 234.2L861.4 237.9L861.8 241.0L862.1 243.5L862.5 245.2L862.8 243.5L863.1 241.0L863.4 237.9L863.7 234.2L864.0 230.0L864.3 225.3L864.6 220.2L864.9 214.7L865.2 209.0L865.5 203.1L865.8 197.0L866.1 190.8L866.4 184.6L866.7 178.4L867.0 172.3L867.3 166.4L867.6 160.7L867.9 155.2L868.2 150.1L868.5 145.4L868.8 141.2L869.1 137.5L869.4 134.4L869.7 131.9L870.0 130.2L870.6 132.0L871.2 134.8L871.7 138.3L872.3 142.6L872.9 147.4L873.5 152.8L874.1 158.5L874.6 164.4L875.2 170.5L875.8 176.7L876.4 182.8L876.9 188.8L877.5 194.5L878.1 199.8L878.7 204.7L879.3 208.9L879.8 212.5L880.4 215.3L881.0 217.1L881.6 215.1L882.3 212.1L882.9 208.1L883.6 203.3L884.2 197.9L884.9 192.1L885.5 186.1L886.2 179.9L886.8 173.9L887.5 168.1L888.1 162.7L888.8 158.0L889.4 154.0L890.1 150.9L890.7 148.9L891.4 150.9L892.1 154.0L892.8 158.2L893.5 163.0L894.2 168.5L894.9 174.2L895.5 180.1L896.2 185.8L896.9 191.3L897.6 196.1L898.3 200.3L899.0 203.4L899.7 205.4L900.4 203.4L901.1 200.3L901.8 196.1L902.6 191.3L903.3 185.8L904.0 180.1L904.7 174.2L905.4 168.5L906.1 163.0L906.9 158.2L907.6 154.0L908.3 150.9L909.0 148.9L909.8 150.9L910.5 154.2L911.3 158.4L912.0 163.4L912.8 169.0L913.5 174.9L914.3 180.9L915.0 186.8L915.8 192.4L916.5 197.4L917.3 201.7L918.0 204.9L918.8 207.0L919.6 204.9L920.4 201.5L921.2 197.1L922.0 191.9L922.8 186.2L923.6 180.1L924.5 173.8L925.3 167.7L926.1 162.0L926.9 156.8L927.7 152.4L928.5 149.0L929.3 146.9L929.9 148.9L930.6 151.7L931.2 155.5L931.9 160.0L932.5 165.0L933.1 170.6L933.8 176.4L934.4 182.5L935.1 188.6L935.7 194.7L936.4 200.5L937.0 206.1L937.6 211.1L938.3 215.6L938.9 219.4L939.6 222.2L940.2 224.1L940.8 222.3L941.4 219.5L941.9 215.9L942.5 211.6L943.1 206.8L943.7 201.4L944.3 195.7L944.8 189.7L945.4 183.6L946.0 177.4L946.6 171.2L947.1 165.2L947.7 159.5L948.3 154.2L948.9 149.3L949.5 145.0L950.0 141.4L950.6 138.7L951.2 136.8L951.7 138.6L952.2 141.0L952.7 144.1L953.1 147.8L953.6 152.0L954.1 156.6L954.6 161.7L955.1 167.1L955.6 172.8L956.0 178.7L956.5 184.8L957.0 191.0L957.5 197.3L958.0 203.5L958.5 209.7L959.0 215.8L959.4 221.8L959.9 227.5L960.4 232.9L960.9 237.9L961.4 242.6L961.9 246.8L962.3 250.4L962.8 253.5L963.3 256.0L963.8 257.7L964.3 256.0L964.7 253.6L965.2 250.7L965.7 247.2L966.2 243.2L966.6 238.7L967.1 233.9L967.6 228.7L968.0 223.2L968.5 217.4L969.0 211.5L969.5 205.4L969.9 199.2L970.4 193.0L970.9 186.7L971.3 180.5L971.8 174.5L972.3 168.5L972.8 162.8L973.2 157.3L973.7 152.1L974.2 147.2L974.6 142.8L975.1 138.8L975.6 135.3L976.1 132.3L976.5 129.9L977.0 128.2L977.4 129.9L977.8 132.1L978.2 134.9L978.6 138.1L979.0 141.8L979.4 145.9L979.8 150.4L980.2 155.3L980.6 160.4L981.0 165.8L981.4 171.4L981.8 177.2L982.2 183.2L982.6 189.2L983.0 195.4L983.4 201.6L983.7 207.7L984.1 213.9L984.5 220.0L984.9 225.9L985.3 231.7L985.7 237.3L986.1 242.7L986.5 247.9L986.9 252.7L987.3 257.2L987.7 261.3L988.1 265.0L988.5 268.3L988.9 271.0L989.3 273.3L989.7 274.9L990.2 273.2L990.6 270.9L991.1 268.0L991.6 264.7L992.0 260.8L992.5 256.6L993.0 251.9L993.4 246.9L993.9 241.6L994.4 236.0L994.8 230.2L995.3 224.2L995.8 218.0L996.2 211.8L996.7 205.5L997.2 199.2L997.7 192.9L998.1 186.6L998.6 180.5L999.1 174.5L999.5 168.7L1000.0 163.1L1000.5 157.8L1000.9 152.8L1001.4 148.1L1001.9 143.9L1002.3 140.0L1002.8 136.6L1003.3 133.8L1003.7 131.5L1004.2 129.8L1004.6 131.4L1004.9 133.6L1005.3 136.2L1005.7 139.3L1006.1 142.8L1006.4 146.7L1006.8 150.9L1007.2 155.4L1007.6 160.3L1007.9 165.4L1008.3 170.8L1008.7 176.4L1009.0 182.2L1009.4 188.1L1009.8 194.2L1010.2 200.4L1010.5 206.6L1010.9 212.9L1011.3 219.2L1011.7 225.4L1012.0 231.7L1012.4 237.8L1012.8 243.9L1013.2 249.8L1013.5 255.6L1013.9 261.2L1014.3 266.6L1014.6 271.7L1015.0 276.6L1015.4 281.1L1015.8 285.4L1016.1 289.3L1016.5 292.7L1016.9 295.8L1017.3 298.5L1017.6 300.6L1018.0 302.3L1018.4 300.6L1018.8 298.5L1019.2 296.0L1019.6 293.0L1019.9 289.6L1020.3 285.9L1020.7 281.8L1021.1 277.3L1021.5 272.6L1021.9 267.7L1022.3 262.4L1022.7 257.0L1023.1 251.4L1023.5 245.6L1023.8 239.7L1024.2 233.7L1024.6 227.6L1025.0 221.4L1025.4 215.2L1025.8 209.1L1026.2 202.9L1026.6 196.8L1027.0 190.8L1027.3 184.9L1027.7 179.1L1028.1 173.5L1028.5 168.0L1028.9 162.8L1029.3 157.8L1029.7 153.1L1030.1 148.7L1030.5 144.6L1030.9 140.8L1031.2 137.5L1031.6 134.5L1032.0 131.9L1032.4 129.8L1032.8 128.2L1033.2 129.8L1033.6 131.9L1034.0 134.4L1034.4 137.3L1034.8 140.6L1035.1 144.3L1035.5 148.2L1035.9 152.5L1036.3 157.1L1036.7 162.0L1037.1 167.0L1037.5 172.4L1037.9 177.9L1038.3 183.6L1038.7 189.4L1039.0 195.4L1039.4 201.5L1039.8 207.7L1040.2 213.9L1040.6 220.2L1041.0 226.6L1041.4 232.9L1041.8 239.2L1042.2 245.4L1042.6 251.6L1043.0 257.7L1043.3 263.7L1043.7 269.6L1044.1 275.2L1044.5 280.8L1044.9 286.1L1045.3 291.2L1045.7 296.0L1046.1 300.6L1046.5 304.9L1046.9 308.9L1047.2 312.5L1047.6 315.8L1048.0 318.7L1048.4 321.2L1048.8 323.3L1049.2 324.9L1049.6 323.3L1050.0 321.2L1050.4 318.7L1050.8 315.8L1051.2 312.5L1051.5 308.9L1051.9 304.9L1052.3 300.6L1052.7 296.0L1053.1 291.2L1053.5 286.1L1053.9 280.8L1054.3 275.2L1054.7 269.6L1055.1 263.7L1055.4 257.7L1055.8 251.6L1056.2 245.4L1056.6 239.2L1057.0 232.9L1057.4 226.6L1057.8 220.2L1058.2 213.9L1058.6 207.7L1059.0 201.5L1059.4 195.4L1059.7 189.4L1060.1 183.6L1060.5 177.9L1060.9 172.4L1061.3 167.0L1061.7 162.0L1062.1 157.1L1062.5 152.5L1062.9 148.2L1063.3 144.3L1063.6 140.6L1064.0 137.3L1064.4 134.4L1064.8 131.9L1065.2 129.8L1065.6 128.2L1066.0 129.8L1066.3 131.7L1066.7 134.1L1067.0 136.7L1067.4 139.7L1067.7 143.0L1068.1 146.6L1068.4 150.5L1068.8 154.7L1069.1 159.0L1069.5 163.7L1069.8 168.5L1070.2 173.6L1070.6 178.8L1070.9 184.2L1071.3 189.8L1071.6 195.5L1072.0 201.3L1072.3 207.3L1072.7 213.3L1073.0 219.4L1073.4 225.6L1073.7 231.8L1074.1 238.1L1074.4 244.3L1074.8 250.6L1075.2 256.9L1075.5 263.1L1075.9 269.3L1076.2 275.4L1076.6 281.4L1076.9 287.3L1077.3 293.2L1077.6 298.9L1078.0 304.4L1078.3 309.9L1078.7 315.1L1079.1 320.1L1079.4 325.0L1079.8 329.6L1080.1 334.0L1080.5 338.2L1080.8 342.0L1081.2 345.6L1081.5 349.0L1081.9 351.9L1082.2 354.6L1082.6 356.9L1082.9 358.9L1083.3 360.5L1083.7 358.9L1084.0 356.9L1084.4 354.6L1084.7 352.0L1085.1 349.0L1085.4 345.7L1085.8 342.2L1086.1 338.3L1086.5 334.2L1086.8 329.8L1087.2 325.2L1087.5 320.4L1087.9 315.4L1088.3 310.2L1088.6 304.8L1089.0 299.3L1089.3 293.6L1089.7 287.8L1090.0 281.9L1090.4 275.9L1090.7 269.9L1091.1 263.7L1091.4 257.6L1091.8 251.3L1092.2 245.1L1092.5 238.9L1092.9 232.7L1093.2 226.5L1093.6 220.4L1093.9 214.3L1094.3 208.3L1094.6 202.4L1095.0 196.6L1095.3 190.9L1095.7 185.4L1096.0 180.0L1096.4 174.8L1096.8 169.8L1097.1 165.0L1097.5 160.4L1097.8 156.0L1098.2 151.9L1098.5 148.1L1098.9 144.5L1099.2 141.2L1099.6 138.2L1099.9 135.6L1100.3 133.3L1100.6 131.3L1101.0 129.8L1101.4 131.4L1101.7 133.3L1102.1 135.6L1102.5 138.3L1102.9 141.3L1103.2 144.6L1103.6 148.2L1104.0 152.1L1104.4 156.2L1104.7 160.6L1105.1 165.2L1105.5 170.0L1105.8 175.1L1106.2 180.3L1106.6 185.7L1107.0 191.3L1107.3 197.0L1107.7 202.9L1108.1 208.8L1108.5 214.9L1108.8 221.0L1109.2 227.2L1109.6 233.4L1109.9 239.7L1110.3 246.1L1110.7 252.4L1111.1 258.7L1111.4 265.0L1111.8 271.2L1112.2 277.4L1112.5 283.6L1112.9 289.6L1113.3 295.6L1113.7 301.4L1114.0 307.1L1114.4 312.7L1114.8 318.1L1115.2 323.3L1115.5 328.4L1115.9 333.2L1116.3 337.9L1116.6 342.2L1117.0 346.4L1117.4 350.3L1117.8 353.8L1118.1 357.1L1118.5 360.1L1118.9 362.8L1119.3 365.1L1119.6 367.1L1120.0 368.7L1120.4 367.1L1120.7 365.1L1121.1 362.7L1121.5 360.0L1121.9 356.9L1122.2 353.5L1122.6 349.8L1123.0 345.8L1123.4 341.5L1123.7 337.0L1124.1 332.2L1124.5 327.2L1124.9 322.1L1125.2 316.7L1125.6 311.1L1126.0 305.5L1126.4 299.6L1126.7 293.7L1127.1 287.7L1127.5 281.5L1127.9 275.4L1128.2 269.1L1128.6 262.9L1129.0 256.6L1129.4 250.4L1129.7 244.2L1130.1 238.0L1130.5 231.9L1130.9 225.8L1131.2 219.9L1131.6 214.1L1132.0 208.4L1132.4 202.8L1132.7 197.5L1133.1 192.3L1133.5 187.3L1133.9 182.5L1134.2 178.0L1134.6 173.7L1135.0 169.7L1135.4 166.0L1135.7 162.6L1136.1 159.5L1136.5 156.8L1136.9 154.4L1137.2 152.5L1137.6 150.9L1138.0 152.5L1138.4 154.8L1138.8 157.6L1139.2 161.0L1139.6 164.7L1140.0 168.9L1140.4 173.5L1140.8 178.3L1141.2 183.5L1141.6 188.8L1142.0 194.4L1142.4 200.1L1142.8 205.8L1143.2 211.6L1143.6 217.5L1144.0 223.2L1144.4 228.9L1144.6 232.5L1144.8 236.1L1145.0 239.7L1145.3 243.2L1145.5 246.8L1145.7 250.5L1145.9 254.3L1146.1 258.1L1146.3 262.1L1146.6 266.2L1146.8 270.5L1147.0 275.1L1147.2 277.7" stroke="#0000ff" stroke-width="6.4"/>
<path d="M1147.2 277.7L1147.4 282.8L1147.6 288.2L1147.9 294.1L1148.1 300.3L1148.3 306.9L1148.5 314.1L1148.6 316.8L1148.6 319.9L1148.7 323.4L1148.8 327.3L1148.8 331.6L1148.9 336.1L1148.9 340.9L1149.0 345.8L1149.1 351.0L1149.1 356.3L1149.2 361.8L1149.2 367.3L1149.3 372.8L1149.4 378.4L1149.4 383.9L1149.5 389.3L1149.6 394.6L1149.6 399.8L1149.7 404.8L1149.8 409.6L1149.8 414.1L1149.9 418.3L1149.9 422.2L1150.0 425.8L1150.1 431.4L1150.2 436.9L1150.3 442.1L1150.5 447.0L1150.6 451.8L1150.7 456.4L1150.8 460.9L1150.9 465.1L1151.0 469.2L1151.2 473.2L1151.3 477.0L1151.4 480.8L1151.5 484.4L1151.7 489.9L1151.9 495.3L1152.1 500.5L1152.3 505.5L1152.5 510.4L1152.7 515.1L1152.8 519.6L1153.0 523.9L1153.2 528.1L1153.4 532.1L1153.6 535.9L1153.8 539.5L1154.0 543.0L1154.3 548.4L1154.7 553.6L1155.0 558.6L1155.3 563.3L1155.7 567.7L1156.0 571.9L1156.3 575.6L1156.7 579.0L1157.0 582.0L1157.8 588.0L1158.6 593.7L1159.4 599.0L1160.1 603.7L1160.9 607.4L1161.7 610.0L1162.5 611.2L1163.4 609.8L1164.4 606.7L1165.3 602.4L1166.2 597.3L1167.2 591.9L1168.1 586.6L1169.1 581.9L1170.0 578.1L1171.4 573.5L1172.9 568.9L1174.3 564.4L1175.7 560.4L1177.1 557.1L1178.6 554.7L1180.0 553.7L1181.1 555.0L1182.2 557.8L1183.3 561.9L1184.5 566.8L1185.6 572.3L1186.7 578.1L1187.2 581.2L1187.7 584.9L1188.1 589.0L1188.6 593.5L1189.1 598.2L1189.6 603.0L1190.0 607.9L1190.5 612.6L1191.0 617.2L1191.4 621.6L1191.9 626.4L1192.3 631.4L1192.8 636.3L1193.2 640.9L1193.6 644.9L1194.1 648.0L1194.5 650.0L1195.8 652.2L1197.1 653.6L1198.4 654.6L1199.7 655.8L1201.0 657.8L1201.8 660.3L1202.5 663.8L1203.2 667.8L1204.0 671.9L1204.7 675.4L1205.3 679.1L1206.0 682.9L1206.7 686.9L1207.3 691.0L1208.0 695.3L1208.6 699.2L1209.1 703.4L1209.7 707.8L1210.2 712.3L1210.8 716.9L1211.3 721.5L1211.9 726.0L1212.4 730.3L1213.0 734.4L1213.7 739.5L1214.4 745.1L1215.1 750.8L1215.8 756.6L1216.5 762.1L1217.2 767.2L1217.9 771.6L1218.6 775.1L1219.3 777.6L1220.0 778.7L1220.4 777.5L1220.8 775.0L1221.2 771.3L1221.6 766.8L1222.0 761.6L1222.4 756.0L1222.8 750.3L1223.2 744.6L1223.6 739.2L1224.0 734.4L1224.4 729.8L1224.8 725.0L1225.2 720.2L1225.6 715.3L1226.0 710.5L1226.4 705.7L1226.8 701.1L1227.2 696.8L1227.6 692.7L1228.0 689.1L1228.6 684.1L1229.2 679.6L1229.9 675.4L1230.5 671.4L1231.1 667.6L1231.8 663.8L1232.4 660.1L1233.0 656.2L1233.7 651.8L1234.4 647.1L1235.1 642.5L1235.9 638.1L1236.6 634.0L1237.3 630.4L1238.0 627.3L1239.2 623.1L1240.5 619.3L1241.8 616.4L1243.0 614.8L1244.2 614.5L1245.4 614.4L1246.6 614.2L1247.8 614.1L1249.0 613.8L1250.3 613.4L1251.6 612.9L1252.8 612.3L1254.1 611.5L1255.4 610.6L1256.7 609.6L1258.0 607.8L1259.2 605.3L1260.5 602.2L1261.7 598.8L1263.0 595.3L1264.2 591.8L1265.5 588.1L1266.8 583.7L1268.0 578.1L1268.5 575.2L1268.9 571.6L1269.3 567.4L1269.8 562.8L1270.2 557.9L1270.7 552.8L1271.2 547.6L1271.6 542.6L1272.0 537.7L1272.5 533.2L1273.0 528.5L1273.5 523.9L1274.0 519.4L1274.5 514.9L1275.0 510.4L1275.5 506.0L1276.0 501.6L1276.5 497.1L1277.0 492.7L1277.5 488.2L1278.0 483.8L1278.5 479.2L1279.0 474.6L1279.5 470.0L1279.9 464.9L1280.4 459.4L1280.8 453.7L1281.3 448.0L1281.8 442.3L1282.2 436.8L1282.7 431.7L1283.2 427.2L1283.6 423.2L1284.1 420.1L1284.5 418.0L1285.0 417.0L1285.7 418.0L1286.4 420.1L1287.0 423.2L1287.7 427.1L1288.4 431.7L1289.1 436.8L1289.8 442.2L1290.5 447.9L1291.1 453.7L1291.8 459.4L1292.5 464.8L1292.9 468.6L1293.4 472.5L1293.8 476.7L1294.2 481.1L1294.7 485.6L1295.1 490.3L1295.5 495.1L1296.0 499.9L1296.4 504.8L1296.8 509.7L1297.3 514.5L1297.7 519.4L1298.1 524.1L1298.6 528.7L1299.0 533.2L1299.5 537.9L1299.9 542.5L1300.4 547.2L1300.8 551.8L1301.3 556.4L1301.8 561.0L1302.2 565.5L1302.7 570.0L1303.2 574.5L1303.6 578.9L1304.1 583.3L1304.5 587.6L1305.0 591.8L1305.5 596.4L1306.0 601.3L1306.5 606.0L1307.0 610.4L1307.5 614.2L1308.0 617.2L1309.4 623.0L1310.8 628.3L1312.2 632.9L1313.7 636.5L1315.1 639.0L1316.5 640.1L1317.3 638.7L1318.1 635.8L1318.9 631.6L1319.8 626.6L1320.6 620.9L1321.4 615.0L1322.2 609.3L1323.0 603.9L1323.6 600.2L1324.2 596.6L1324.8 592.9L1325.5 588.8L1326.1 583.9L1326.7 578.1L1326.9 575.4L1327.1 572.1L1327.3 568.4L1327.5 564.3L1327.7 559.8L1327.9 555.0L1328.1 550.0L1328.3 544.8L1328.6 539.5L1328.8 534.1L1329.0 528.8L1329.2 523.5L1329.4 518.3L1329.6 513.2L1329.8 508.4L1330.0 503.9L1330.2 499.0L1330.5 494.1L1330.7 489.2L1330.9 484.3L1331.2 479.5L1331.4 474.6L1331.6 469.8L1331.9 465.1L1332.1 460.4L1332.4 455.8L1332.6 451.2L1332.8 446.7L1333.1 442.3L1333.3 438.0L1333.5 433.8L1333.8 429.7L1334.0 425.8L1334.3 420.5L1334.7 415.2L1335.0 410.0L1335.3 404.9L1335.7 399.9L1336.0 395.0L1336.3 390.1L1336.7 385.4L1337.0 380.9L1337.3 376.5L1337.7 372.2L1338.0 368.1L1338.3 364.2L1338.7 360.5L1339.0 357.0L1339.6 351.4L1340.2 345.6L1340.8 339.8L1341.3 334.1L1341.9 328.6L1342.5 323.4L1343.1 318.7L1343.7 314.5L1344.2 310.9L1344.8 308.1L1345.4 306.2L1346.0 305.2L1346.8 306.2L1347.5 308.3L1348.2 311.3L1349.0 315.1L1349.8 319.5L1350.5 324.4L1351.2 329.7L1352.0 335.2L1352.8 340.9L1353.5 346.5L1354.2 351.9L1355.0 357.0L1355.6 361.1L1356.2 365.5L1356.7 370.2L1357.3 375.0L1357.9 379.9L1358.5 384.9L1359.0 389.9L1359.6 394.7L1360.2 399.5L1360.8 404.0L1361.3 408.2L1361.9 412.1L1362.5 415.6L1363.6 421.3L1364.6 427.1L1365.7 432.7L1366.7 438.1L1367.8 443.0L1368.8 447.3L1369.9 450.7L1370.9 453.0L1372.0 454.1L1373.3 453.5L1374.6 452.0L1375.9 449.9L1377.1 447.3L1378.4 444.2L1379.7 440.9L1381.0 437.5L1381.8 434.7L1382.6 431.3L1383.5 427.4L1384.3 423.1L1385.1 418.4L1385.9 413.4L1386.7 408.3L1387.5 402.9L1388.4 397.5L1389.2 392.1L1390.0 386.7L1390.6 382.7L1391.2 378.6L1391.7 374.2L1392.3 369.8L1392.9 365.2L1393.5 360.6L1394.0 355.9L1394.6 351.1L1395.2 346.4L1395.8 341.7L1396.3 337.1L1396.9 332.5L1397.5 328.1L1398.1 323.3L1398.7 318.1L1399.4 312.7L1400.0 307.1L1400.6 301.4L1401.2 295.6L1401.8 289.8L1402.5 284.0L1403.1 278.4L1403.7 273.0L1404.3 267.8L1405.0 262.9L1405.6 258.4L1406.2 254.4L1406.8 250.9L1407.4 247.9L1408.1 245.6L1408.7 244.0L1409.3 243.1L1410.3 243.9L1411.2 245.3L1412.2 247.2L1413.2 249.6L1414.1 252.5L1415.1 255.9L1416.1 259.8L1417.0 264.0L1418.0 268.6L1419.0 273.6L1420.0 278.8L1420.9 284.4L1421.9 290.2L1422.9 296.2L1423.8 302.5L1424.8 308.9L1425.8 315.4L1426.7 322.0L1427.7 328.7L1428.7 335.5L1429.6 342.3L1430.6 349.0L1431.6 355.7L1432.5 362.4L1433.5 368.9L1434.5 375.3L1435.4 381.5L1436.4 387.5L1437.4 393.4L1438.3 398.9L1439.3 404.2L1440.3 409.1L1441.3 413.7L1442.2 418.0L1443.2 421.8L1444.2 425.2L1445.1 428.1L1446.1 430.6L1447.1 432.5L1448.0 433.8L1449.0 434.6L1449.6 433.9L1450.3 432.7L1450.9 431.1L1451.5 429.1L1452.2 426.6L1452.8 423.8L1453.4 420.6L1454.1 417.1L1454.7 413.2L1455.3 409.0L1456.0 404.5L1456.6 399.7L1457.2 394.7L1457.9 389.4L1458.5 383.9L1459.2 378.2L1459.8 372.3L1460.4 366.3L1461.1 360.1L1461.7 353.7L1462.3 347.3L1463.0 340.8L1463.6 334.1L1464.2 327.5L1464.9 320.8L1465.5 314.1L1466.1 307.3L1466.8 300.6L1467.4 294.0L1468.0 287.4L1468.7 280.8L1469.3 274.4L1469.9 268.1L1470.6 261.9L1471.2 255.8L1471.8 249.9L1472.5 244.2L1473.1 238.7L1473.8 233.5L1474.4 228.4L1475.0 223.6L1475.7 219.1L1476.3 214.9L1476.9 211.1L1477.6 207.5L1478.2 204.3L1478.8 201.5L1479.5 199.0L1480.1 197.0L1480.7 195.4L1481.4 194.2L1482.0 193.5L1483.0 194.3L1484.0 195.7L1484.9 197.6L1485.9 200.1L1486.9 203.1L1487.8 206.5L1488.8 210.4L1489.8 214.7L1490.8 219.4L1491.8 224.4L1492.7 229.7L1493.7 235.4L1494.7 241.2L1495.7 247.3L1496.6 253.6L1497.6 260.0L1498.6 266.6L1499.5 273.2L1500.5 280.0L1501.5 286.7L1502.5 293.5L1503.5 300.2L1504.4 306.8L1505.4 313.4L1506.4 319.8L1507.3 326.1L1508.3 332.2L1509.3 338.1L1510.3 343.7L1511.2 349.0L1512.2 354.1L1513.2 358.7L1514.2 363.0L1515.2 366.9L1516.1 370.4L1517.1 373.4L1518.1 375.8L1519.0 377.8L1520.0 379.1L1521.0 379.9L1522.2 379.1L1523.5 377.6L1524.7 375.5L1525.9 372.7L1527.1 369.5L1528.4 365.7L1529.6 361.4L1530.8 356.7L1532.1 351.6L1533.3 346.2L1534.5 340.4L1535.7 334.4L1537.0 328.2L1538.2 321.8L1539.4 315.2L1540.7 308.5L1541.9 301.8L1543.1 295.1L1544.3 288.3L1545.6 281.7L1546.8 275.1L1548.0 268.7L1549.3 262.4L1550.5 256.4L1551.7 250.7L1552.9 245.3L1554.2 240.2L1555.4 235.5L1556.6 231.2L1557.9 227.4L1559.1 224.1L1560.3 221.4L1561.5 219.3L1562.8 217.8L1564.0 217.0L1565.4 217.8L1566.8 219.4L1568.2 221.7L1569.6 224.7L1571.0 228.2L1572.4 232.3L1573.8 236.9L1575.2 241.9L1576.6 247.3L1578.0 253.0L1579.4 259.0L1580.8 265.3L1582.2 271.7L1583.6 278.3L1585.0 284.9L1586.5 291.6L1587.9 298.3L1589.3 304.8L1590.7 311.3L1592.1 317.5L1593.5 323.5L1594.9 329.3L1596.3 334.7L1597.7 339.7L1599.1 344.3L1600.5 348.4L1601.9 351.9L1603.3 354.8L1604.7 357.1L1606.1 358.7L1607.5 359.6L1608.8 358.4L1610.2 355.9L1611.5 352.2L1612.9 347.7L1614.2 342.4L1615.6 336.8L1617.0 330.9L1618.3 325.0L1619.7 319.3L1621.0 314.1L1622.0 309.6L1623.0 304.5L1624.0 300.2L1625.0 298.2L1626.0 300.8L1627.0 303.4L1627.6 301.9L1628.1 298.7L1628.7 294.3L1629.3 289.2L1629.9 283.9L1630.4 279.0L1631.0 275.0L1632.0 269.1L1633.0 263.1L1634.1 257.0L1635.1 250.9L1636.1 244.7L1637.1 238.6L1638.2 232.5L1639.2 226.5L1640.2 220.6L1641.2 214.8L1642.2 209.3L1643.3 203.9L1644.3 198.8L1645.3 194.0L1646.3 189.5L1647.3 185.4L1648.4 181.6L1649.4 178.2L1650.4 175.3L1651.4 172.9L1652.5 171.0L1653.5 169.7L1654.5 168.9L1656.0 169.7L1657.5 171.0L1659.0 173.0L1660.5 175.4L1662.0 178.4L1663.5 181.8L1664.9 185.7L1666.4 190.0L1667.9 194.6L1669.4 199.6L1670.9 204.9L1672.4 210.5L1673.9 216.3L1675.4 222.4L1676.9 228.6L1678.4 234.9L1679.9 241.4L1681.4 247.9L1682.9 254.5L1684.3 261.1L1685.8 267.7L1687.3 274.3L1688.8 280.7L1690.3 287.1L1691.8 293.3L1693.3 299.3L1694.8 305.1L1696.3 310.7L1697.8 316.0L1699.3 321.0L1700.8 325.6L1702.3 329.9L1703.7 333.8L1705.2 337.2L1706.7 340.2L1708.2 342.6L1709.7 344.6L1711.2 345.9L1712.7 346.7L1714.2 345.9L1715.7 344.5L1717.1 342.4L1718.6 339.8L1720.1 336.6L1721.6 332.9L1723.1 328.8L1724.5 324.2L1726.0 319.3L1727.5 314.0L1729.0 308.5L1730.5 302.7L1731.9 296.7L1733.4 290.5L1734.9 284.3L1736.4 277.9L1737.8 271.5L1739.3 265.1L1740.8 258.7L1742.3 252.4L1743.8 246.3L1745.2 240.3L1746.7 234.5L1748.2 228.9L1749.7 223.7L1751.2 218.8L1752.6 214.2L1754.1 210.1L1755.6 206.4L1757.1 203.2L1758.6 200.6L1760.0 198.5L1761.5 197.0L1763.0 196.3L1764.5 197.0L1765.9 198.2L1767.4 200.0L1768.9 202.3L1770.4 205.1L1771.8 208.2L1773.3 211.8L1774.8 215.8L1776.2 220.1L1777.7 224.7L1779.2 229.5L1780.7 234.6L1782.1 239.9L1783.6 245.3L1785.1 250.9L1786.6 256.6L1788.0 262.4L1789.5 268.2L1791.0 274.0L1792.4 279.7L1793.9 285.4L1795.4 291.0L1796.9 296.4L1798.3 301.7L1799.8 306.8L1801.3 311.7L1802.8 316.3L1804.2 320.5L1805.7 324.5L1807.2 328.1L1808.6 331.3L1810.1 334.0L1811.6 336.3L1813.1 338.1L1814.5 339.4L1816.0 340.1L1817.5 339.5L1818.9 338.5L1820.4 337.1L1821.8 335.2L1823.3 333.0L1824.8 330.5L1826.2 327.6L1827.7 324.4L1829.2 320.9L1830.6 317.2L1832.1 313.3L1833.5 309.2L1835.0 304.8L1836.5 300.4L1837.9 295.8L1839.4 291.0L1840.8 286.2L1842.3 281.4L1843.8 276.5L1845.2 271.6L1846.7 266.7L1848.2 261.8L1849.6 257.0L1851.1 252.3L1852.5 247.7L1854.0 243.2L1855.5 238.9L1856.9 234.7L1858.4 230.8L1859.8 227.1L1861.3 223.6L1862.8 220.5L1864.2 217.6L1865.7 215.0L1867.2 212.8L1868.6 211.0L1870.1 209.6L1871.5 208.5L1873.0 208.0L1874.5 208.6L1875.9 209.7L1877.4 211.3L1878.9 213.3L1880.3 215.7L1881.8 218.5L1883.2 221.6L1884.7 225.1L1886.2 228.9L1887.6 232.9L1889.1 237.3L1890.6 241.8L1892.0 246.6L1893.5 251.5L1895.0 256.6L1896.4 261.9L1897.9 267.3L1899.3 272.7L1900.8 278.2L1902.3 283.7L1903.7 289.3L1905.2 294.8L1906.7 300.3L1908.1 305.8L1909.6 311.1L1911.0 316.4L1912.5 321.5L1914.0 326.5L1915.4 331.2L1916.9 335.8L1918.4 340.1L1919.8 344.2L1921.3 348.0L1922.8 351.4L1924.2 354.6L1925.7 357.4L1927.1 359.8L1928.6 361.8L1930.1 363.3L1931.5 364.4L1933.0 365.1L1934.5 364.4L1936.0 363.2L1937.5 361.6L1938.9 359.4L1940.4 356.8L1941.9 353.8L1943.4 350.4L1944.9 346.7L1946.4 342.7L1947.8 338.4L1949.3 333.9L1950.8 329.2L1952.3 324.4L1953.8 319.4L1955.3 314.3L1956.8 309.2L1958.2 304.1L1959.7 299.0L1961.2 293.9L1962.7 288.9L1964.2 284.1L1965.7 279.4L1967.2 274.9L1968.6 270.6L1970.1 266.6L1971.6 262.9L1973.1 259.5L1974.6 256.5L1976.1 253.9L1977.5 251.7L1979.0 250.0L1980.5 248.9L1982.0 248.2L1983.2 249.6L1984.5 252.4L1985.8 256.6L1987.0 261.6L1988.2 267.3L1989.5 273.4L1990.8 279.5L1992.0 285.3L1993.2 290.5L1994.5 294.9L1995.9 298.8L1997.4 302.2L1998.8 305.4L2000.2 308.6L2001.6 311.9L2003.1 315.8L2004.5 320.3L2005.2 323.4L2006.0 327.0L2006.8 331.0L2007.5 335.3L2008.2 339.8L2009.0 344.5L2009.8 349.2L2010.5 354.0L2011.2 358.7L2012.0 363.3L2012.7 367.6L2013.4 372.1L2014.1 376.6L2014.9 381.2L2015.6 385.9L2016.3 390.6L2017.0 395.2L2017.7 399.9L2018.4 404.5L2019.1 409.0L2019.9 413.4L2020.6 417.7L2021.3 421.8L2022.0 425.8L2022.9 430.4L2023.8 434.9L2024.7 439.2L2025.6 443.5L2026.4 447.6L2027.3 451.7L2028.2 455.6L2029.1 459.5L2030.0 463.3L2031.2 467.8L2032.3 472.0L2033.5 476.1L2034.7 480.2L2035.8 484.7L2037.0 489.8L2037.7 493.6L2038.4 497.7L2039.1 502.0L2039.9 506.7L2040.6 511.6L2041.3 516.6L2042.0 521.9L2042.5 525.8L2043.0 530.0L2043.5 534.4L2044.0 539.0L2044.5 543.7L2045.0 548.4L2045.4 552.5L2045.9 556.4L2046.3 560.4L2046.7 564.6L2047.1 569.2L2047.6 574.5L2048.0 580.5L2048.2 583.8L2048.4 587.8L2048.6 592.1L2048.8 596.8L2048.9 601.8L2049.1 606.9L2049.3 612.0L2049.5 617.2L2049.6 621.1L2049.8 625.2L2049.9 629.5L2050.0 633.9L2050.2 638.4L2050.3 642.9L2050.5 647.4L2050.6 651.8L2050.7 656.1L2050.9 660.2L2051.0 664.1L2051.2 669.1L2051.4 674.0L2051.6 678.8L2051.8 683.5L2052.0 688.1L2052.2 692.5L2052.3 696.9L2052.5 701.3L2052.7 705.6L2052.9 709.9L2053.1 714.1L2053.3 718.4L2053.5 722.7L2053.7 727.5L2053.9 732.1L2054.2 736.7L2054.4 741.2L2054.6 745.6L2054.8 749.9L2055.0 754.2L2055.3 758.4L2055.5 762.6L2055.7 766.8L2055.9 771.0L2056.2 775.2L2056.4 779.5L2056.6 783.8L2056.8 788.2L2057.0 792.6L2057.3 797.2L2057.5 801.8L2057.7 806.6L2057.9 811.5L2058.1 816.6L2058.4 821.8L2058.6 827.2L2058.8 832.8L2058.9 836.6L2059.1 840.5L2059.2 844.7L2059.3 849.1L2059.5 853.7L2059.6 858.3L2059.7 863.2L2059.9 868.1L2060.0 873.1L2060.1 878.1L2060.3 883.2L2060.4 888.3L2060.5 893.4L2060.7 898.4L2060.8 903.4L2060.9 908.3L2061.1 913.1L2061.2 917.8L2061.3 922.4L2061.5 926.8L2061.6 931.0L2061.7 934.9L2061.9 938.7L2062.0 942.2L2062.2 948.0L2062.5 953.7L2062.8 959.3L2063.0 964.8L2063.2 970.1L2063.5 975.2L2063.8 980.2L2064.0 985.1L2064.2 989.8L2064.5 994.3L2064.8 998.7L2065.0 1002.9L2065.2 1006.9L2065.5 1010.7L2065.8 1014.4L2066.0 1017.9L2066.2 1021.1L2066.5 1024.2L2067.0 1029.6L2067.5 1034.8L2068.0 1039.7L2068.5 1044.1L2069.0 1047.8L2069.5 1050.9L2070.0 1053.1L2071.0 1055.7L2072.0 1057.5L2073.0 1058.6L2074.0 1059.0L2075.0 1059.3L2076.0 1059.4" stroke="#0000ff" stroke-width="5.8"/>
</g>
<g stroke="#000" stroke-width="5.5" fill="none">
<line x1="441.3" y1="1380.8" x2="441.3" y2="1352.5"/><line x1="600.0" y1="1380.8" x2="600.0" y2="1352.5"/><line x1="758.7" y1="1380.8" x2="758.7" y2="1352.5"/><line x1="917.4" y1="1380.8" x2="917.4" y2="1352.5"/><line x1="1076.1" y1="1380.8" x2="1076.1" y2="1352.5"/><line x1="1234.8" y1="1380.8" x2="1234.8" y2="1352.5"/><line x1="1393.5" y1="1380.8" x2="1393.5" y2="1352.5"/><line x1="1552.2" y1="1380.8" x2="1552.2" y2="1352.5"/><line x1="1710.9" y1="1380.8" x2="1710.9" y2="1352.5"/><line x1="1869.6" y1="1380.8" x2="1869.6" y2="1352.5"/><line x1="2028.3" y1="1380.8" x2="2028.3" y2="1352.5"/><line x1="520.6" y1="1380.8" x2="520.6" y2="1363.5"/><line x1="679.4" y1="1380.8" x2="679.4" y2="1363.5"/><line x1="838.0" y1="1380.8" x2="838.0" y2="1363.5"/><line x1="996.8" y1="1380.8" x2="996.8" y2="1363.5"/><line x1="1155.5" y1="1380.8" x2="1155.5" y2="1363.5"/><line x1="1314.1" y1="1380.8" x2="1314.1" y2="1363.5"/><line x1="1472.8" y1="1380.8" x2="1472.8" y2="1363.5"/><line x1="1631.5" y1="1380.8" x2="1631.5" y2="1363.5"/><line x1="1790.2" y1="1380.8" x2="1790.2" y2="1363.5"/><line x1="1948.9" y1="1380.8" x2="1948.9" y2="1363.5"/><line x1="362.5" y1="1107.3" x2="391.5" y2="1107.3"/><line x1="362.5" y1="859.4" x2="391.5" y2="859.4"/><line x1="362.5" y1="611.6" x2="391.5" y2="611.6"/><line x1="362.5" y1="363.7" x2="391.5" y2="363.7"/><line x1="362.5" y1="1231.3" x2="379" y2="1231.3"/><line x1="362.5" y1="983.4" x2="379" y2="983.4"/><line x1="362.5" y1="735.5" x2="379" y2="735.5"/><line x1="362.5" y1="487.6" x2="379" y2="487.6"/><line x1="362.5" y1="239.7" x2="379" y2="239.7"/>
</g>
<g stroke="#000" stroke-linecap="butt">
<line x1="362.5" y1="113.55" x2="362.5" y2="1384.3999999999999" stroke-width="5"/>
<line x1="2076.0" y1="113.55" x2="2076.0" y2="1384.3999999999999" stroke-width="6.8"/>
<line x1="360.0" y1="116.3" x2="2079.4" y2="116.3" stroke-width="5.5"/>
<line x1="360.0" y1="1380.8" x2="2079.4" y2="1380.8" stroke-width="7.2"/>
</g>
<g font-size="66">
<text x="441.3" y="1458" text-anchor="middle">0.5</text><text x="600.0" y="1458" text-anchor="middle">1.0</text><text x="758.7" y="1458" text-anchor="middle">1.5</text><text x="917.4" y="1458" text-anchor="middle">2.0</text><text x="1076.1" y="1458" text-anchor="middle">2.5</text><text x="1234.8" y="1458" text-anchor="middle">3.0</text><text x="1393.5" y="1458" text-anchor="middle">3.5</text><text x="1552.2" y="1458" text-anchor="middle">4.0</text><text x="1710.9" y="1458" text-anchor="middle">4.5</text><text x="1869.6" y="1458" text-anchor="middle">5.0</text><text x="2028.3" y="1458" text-anchor="middle">5.5</text>
<text x="333.5" y="1374.4" text-anchor="end">0</text><text x="333.5" y="1126.5" text-anchor="end">20</text><text x="333.5" y="878.6" text-anchor="end">40</text><text x="333.5" y="630.8" text-anchor="end">60</text><text x="333.5" y="382.9" text-anchor="end">80</text><text x="333.5" y="135.0" text-anchor="end" textLength="89.5" lengthAdjust="spacingAndGlyphs">100</text>
</g>
<line x1="552" y1="1129.7" x2="697" y2="1129.7" stroke="#000" stroke-width="7.5"/>
<line x1="552" y1="1208" x2="697" y2="1208" stroke="#0000ff" stroke-width="7.5"/>
<text x="709.5" y="1152.6" font-size="65">PI</text>
<text x="709.5" y="1230.6" font-size="64" textLength="445" lengthAdjust="spacing">PI After Coating</text>
<text x="838.5" y="1583" font-size="103">Wavelength (<tspan font-weight="normal">μ</tspan>m)</text>
<text transform="translate(155.5,1152) rotate(-90)" font-size="103" letter-spacing="0.35">Transmittance (%)</text>
</svg>
</body></html>
